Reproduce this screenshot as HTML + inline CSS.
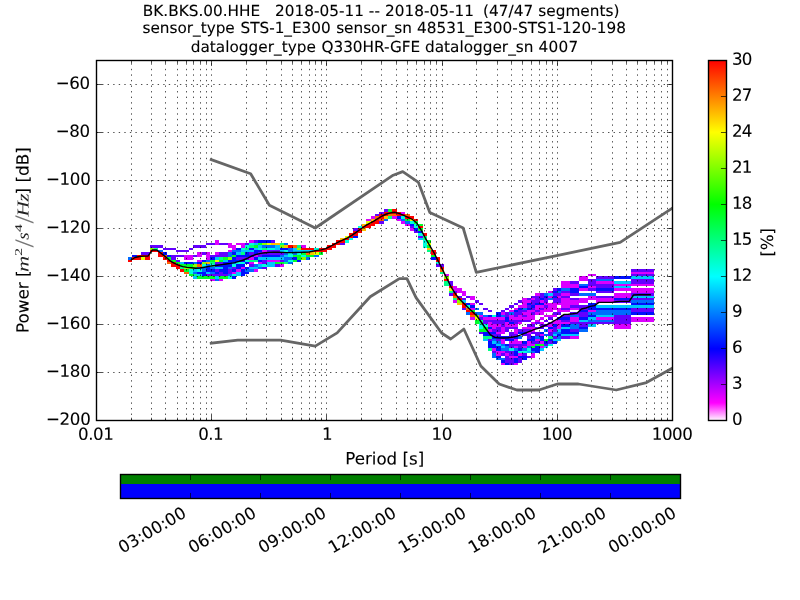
<!DOCTYPE html><html><head><meta charset="utf-8"><title>PPSD BK.BKS.00.HHE</title>
<style>html,body{margin:0;padding:0;background:#fff;overflow:hidden}svg{display:block}text{font-family:"DejaVu Sans","Liberation Sans",sans-serif;font-size:16.667px;fill:#000;stroke:#000;stroke-width:0.1px;text-rendering:geometricPrecision}.m{font-family:"Liberation Serif",serif;font-style:italic;stroke:none;fill:#222}.mr{font-family:"Liberation Serif",serif;stroke:none}</style></head><body>
<svg width="800" height="600" viewBox="0 0 800 600">
<rect x="0" y="0" width="800" height="600" fill="#fff"/>
<g shape-rendering="crispEdges">
<rect x="128" y="257" width="4" height="3" fill="#006bff"/>
<rect x="128" y="260" width="4" height="2" fill="#ff0000"/>
<rect x="132" y="255" width="5" height="2" fill="#0010ff"/>
<rect x="132" y="257" width="5" height="3" fill="#ff0000"/>
<rect x="137" y="255" width="4" height="2" fill="#ff0000"/>
<rect x="137" y="257" width="4" height="3" fill="#ff0000"/>
<rect x="141" y="252" width="4" height="3" fill="#6300ff"/>
<rect x="141" y="255" width="4" height="2" fill="#ff0000"/>
<rect x="141" y="257" width="4" height="3" fill="#e6ff00"/>
<rect x="145" y="252" width="5" height="3" fill="#6300ff"/>
<rect x="145" y="255" width="5" height="2" fill="#ff0000"/>
<rect x="145" y="257" width="5" height="3" fill="#ff0000"/>
<rect x="150" y="245" width="4" height="3" fill="#6300ff"/>
<rect x="150" y="248" width="4" height="2" fill="#8bff00"/>
<rect x="150" y="250" width="4" height="2" fill="#ff0000"/>
<rect x="154" y="245" width="4" height="3" fill="#6300ff"/>
<rect x="154" y="248" width="4" height="2" fill="#00ff84"/>
<rect x="154" y="250" width="4" height="2" fill="#ff0000"/>
<rect x="158" y="245" width="5" height="3" fill="#6300ff"/>
<rect x="158" y="250" width="5" height="2" fill="#006bff"/>
<rect x="158" y="252" width="5" height="3" fill="#ff0000"/>
<rect x="158" y="255" width="5" height="2" fill="#ff0000"/>
<rect x="163" y="248" width="4" height="2" fill="#6300ff"/>
<rect x="163" y="252" width="4" height="3" fill="#0010ff"/>
<rect x="163" y="255" width="4" height="2" fill="#ff6300"/>
<rect x="163" y="257" width="4" height="3" fill="#ff0000"/>
<rect x="167" y="248" width="4" height="2" fill="#6300ff"/>
<rect x="167" y="255" width="4" height="2" fill="#0010ff"/>
<rect x="167" y="257" width="4" height="3" fill="#00ff2a"/>
<rect x="167" y="260" width="4" height="2" fill="#ff0000"/>
<rect x="167" y="262" width="4" height="2" fill="#ff6300"/>
<rect x="171" y="248" width="5" height="2" fill="#6300ff"/>
<rect x="171" y="255" width="5" height="2" fill="#6300ff"/>
<rect x="171" y="257" width="5" height="3" fill="#6300ff"/>
<rect x="171" y="260" width="5" height="2" fill="#00ff2a"/>
<rect x="171" y="262" width="5" height="2" fill="#ff0000"/>
<rect x="171" y="264" width="5" height="3" fill="#ff0000"/>
<rect x="176" y="250" width="4" height="2" fill="#6300ff"/>
<rect x="176" y="255" width="4" height="2" fill="#6300ff"/>
<rect x="176" y="260" width="4" height="2" fill="#6300ff"/>
<rect x="176" y="262" width="4" height="2" fill="#00ff2a"/>
<rect x="176" y="264" width="4" height="3" fill="#ff0000"/>
<rect x="176" y="267" width="4" height="2" fill="#ff0000"/>
<rect x="180" y="250" width="4" height="2" fill="#6300ff"/>
<rect x="180" y="255" width="4" height="2" fill="#6300ff"/>
<rect x="180" y="262" width="4" height="2" fill="#00c5ff"/>
<rect x="180" y="264" width="4" height="3" fill="#00ff2a"/>
<rect x="180" y="267" width="4" height="2" fill="#00ff84"/>
<rect x="180" y="269" width="4" height="3" fill="#ff0000"/>
<rect x="184" y="250" width="5" height="2" fill="#6300ff"/>
<rect x="184" y="255" width="5" height="2" fill="#db00ff"/>
<rect x="184" y="257" width="5" height="3" fill="#db00ff"/>
<rect x="184" y="262" width="5" height="2" fill="#0010ff"/>
<rect x="184" y="264" width="5" height="3" fill="#00ff2a"/>
<rect x="184" y="267" width="5" height="2" fill="#8bff00"/>
<rect x="184" y="269" width="5" height="3" fill="#00ff2a"/>
<rect x="184" y="272" width="5" height="2" fill="#ff6300"/>
<rect x="189" y="248" width="4" height="2" fill="#6300ff"/>
<rect x="189" y="255" width="4" height="2" fill="#db00ff"/>
<rect x="189" y="257" width="4" height="3" fill="#db00ff"/>
<rect x="189" y="262" width="4" height="2" fill="#0010ff"/>
<rect x="189" y="264" width="4" height="3" fill="#00ff2a"/>
<rect x="189" y="267" width="4" height="2" fill="#8bff00"/>
<rect x="189" y="269" width="4" height="3" fill="#00ffde"/>
<rect x="189" y="272" width="4" height="2" fill="#00ffde"/>
<rect x="189" y="274" width="4" height="2" fill="#00ff2a"/>
<rect x="193" y="245" width="4" height="3" fill="#6300ff"/>
<rect x="193" y="255" width="4" height="2" fill="#6300ff"/>
<rect x="193" y="262" width="4" height="2" fill="#006bff"/>
<rect x="193" y="264" width="4" height="3" fill="#8bff00"/>
<rect x="193" y="267" width="4" height="2" fill="#00ff2a"/>
<rect x="193" y="269" width="4" height="3" fill="#00c5ff"/>
<rect x="193" y="272" width="4" height="2" fill="#006bff"/>
<rect x="193" y="274" width="4" height="2" fill="#00ff84"/>
<rect x="193" y="276" width="4" height="3" fill="#00c5ff"/>
<rect x="197" y="245" width="5" height="3" fill="#6300ff"/>
<rect x="197" y="252" width="5" height="3" fill="#db00ff"/>
<rect x="197" y="255" width="5" height="2" fill="#db00ff"/>
<rect x="197" y="260" width="5" height="2" fill="#db00ff"/>
<rect x="197" y="262" width="5" height="2" fill="#0010ff"/>
<rect x="197" y="264" width="5" height="3" fill="#ff6300"/>
<rect x="197" y="267" width="5" height="2" fill="#006bff"/>
<rect x="197" y="269" width="5" height="3" fill="#00ffde"/>
<rect x="197" y="272" width="5" height="2" fill="#0010ff"/>
<rect x="197" y="274" width="5" height="2" fill="#00c5ff"/>
<rect x="197" y="276" width="5" height="3" fill="#00ff2a"/>
<rect x="202" y="245" width="4" height="3" fill="#6300ff"/>
<rect x="202" y="252" width="4" height="3" fill="#6300ff"/>
<rect x="202" y="260" width="4" height="2" fill="#0010ff"/>
<rect x="202" y="262" width="4" height="2" fill="#8bff00"/>
<rect x="202" y="264" width="4" height="3" fill="#00ffde"/>
<rect x="202" y="267" width="4" height="2" fill="#006bff"/>
<rect x="202" y="269" width="4" height="3" fill="#006bff"/>
<rect x="202" y="272" width="4" height="2" fill="#0010ff"/>
<rect x="202" y="274" width="4" height="2" fill="#0010ff"/>
<rect x="202" y="276" width="4" height="3" fill="#00ff2a"/>
<rect x="206" y="243" width="4" height="2" fill="#6300ff"/>
<rect x="206" y="252" width="4" height="3" fill="#db00ff"/>
<rect x="206" y="255" width="4" height="2" fill="#db00ff"/>
<rect x="206" y="257" width="4" height="3" fill="#db00ff"/>
<rect x="206" y="260" width="4" height="2" fill="#006bff"/>
<rect x="206" y="262" width="4" height="2" fill="#ffbe00"/>
<rect x="206" y="264" width="4" height="3" fill="#006bff"/>
<rect x="206" y="267" width="4" height="2" fill="#0010ff"/>
<rect x="206" y="269" width="4" height="3" fill="#0010ff"/>
<rect x="206" y="272" width="4" height="2" fill="#00c5ff"/>
<rect x="206" y="274" width="4" height="2" fill="#6300ff"/>
<rect x="206" y="276" width="4" height="3" fill="#00ff2a"/>
<rect x="210" y="243" width="5" height="2" fill="#6300ff"/>
<rect x="210" y="255" width="5" height="2" fill="#6300ff"/>
<rect x="210" y="257" width="5" height="3" fill="#0010ff"/>
<rect x="210" y="260" width="5" height="2" fill="#00ff2a"/>
<rect x="210" y="262" width="5" height="2" fill="#00ff84"/>
<rect x="210" y="264" width="5" height="3" fill="#00ffde"/>
<rect x="210" y="267" width="5" height="2" fill="#006bff"/>
<rect x="210" y="269" width="5" height="3" fill="#0010ff"/>
<rect x="210" y="272" width="5" height="2" fill="#006bff"/>
<rect x="210" y="274" width="5" height="2" fill="#6300ff"/>
<rect x="210" y="276" width="5" height="3" fill="#00ff2a"/>
<rect x="210" y="279" width="5" height="2" fill="#db00ff"/>
<rect x="215" y="240" width="4" height="3" fill="#db00ff"/>
<rect x="215" y="243" width="4" height="2" fill="#db00ff"/>
<rect x="215" y="252" width="4" height="3" fill="#db00ff"/>
<rect x="215" y="255" width="4" height="2" fill="#6300ff"/>
<rect x="215" y="257" width="4" height="3" fill="#00c5ff"/>
<rect x="215" y="260" width="4" height="2" fill="#e6ff00"/>
<rect x="215" y="262" width="4" height="2" fill="#6300ff"/>
<rect x="215" y="264" width="4" height="3" fill="#0010ff"/>
<rect x="215" y="267" width="4" height="2" fill="#00c5ff"/>
<rect x="215" y="269" width="4" height="3" fill="#6300ff"/>
<rect x="215" y="272" width="4" height="2" fill="#0010ff"/>
<rect x="215" y="274" width="4" height="2" fill="#6300ff"/>
<rect x="215" y="276" width="4" height="3" fill="#00c5ff"/>
<rect x="215" y="279" width="4" height="2" fill="#006bff"/>
<rect x="219" y="243" width="4" height="2" fill="#6300ff"/>
<rect x="219" y="252" width="4" height="3" fill="#6300ff"/>
<rect x="219" y="255" width="4" height="2" fill="#6300ff"/>
<rect x="219" y="257" width="4" height="3" fill="#00ff84"/>
<rect x="219" y="260" width="4" height="2" fill="#00ff2a"/>
<rect x="219" y="262" width="4" height="2" fill="#6300ff"/>
<rect x="219" y="264" width="4" height="3" fill="#0010ff"/>
<rect x="219" y="267" width="4" height="2" fill="#00c5ff"/>
<rect x="219" y="269" width="4" height="3" fill="#0010ff"/>
<rect x="219" y="272" width="4" height="2" fill="#6300ff"/>
<rect x="219" y="274" width="4" height="2" fill="#6300ff"/>
<rect x="219" y="276" width="4" height="3" fill="#00ff2a"/>
<rect x="219" y="279" width="4" height="2" fill="#db00ff"/>
<rect x="223" y="243" width="5" height="2" fill="#6300ff"/>
<rect x="223" y="252" width="5" height="3" fill="#6300ff"/>
<rect x="223" y="255" width="5" height="2" fill="#6300ff"/>
<rect x="223" y="257" width="5" height="3" fill="#00ff2a"/>
<rect x="223" y="260" width="5" height="2" fill="#00c5ff"/>
<rect x="223" y="262" width="5" height="2" fill="#0010ff"/>
<rect x="223" y="264" width="5" height="3" fill="#0010ff"/>
<rect x="223" y="267" width="5" height="2" fill="#0010ff"/>
<rect x="223" y="269" width="5" height="3" fill="#0010ff"/>
<rect x="223" y="272" width="5" height="2" fill="#0010ff"/>
<rect x="223" y="274" width="5" height="2" fill="#6300ff"/>
<rect x="223" y="276" width="5" height="3" fill="#00ff2a"/>
<rect x="228" y="243" width="4" height="2" fill="#db00ff"/>
<rect x="228" y="245" width="4" height="3" fill="#db00ff"/>
<rect x="228" y="250" width="4" height="2" fill="#db00ff"/>
<rect x="228" y="252" width="4" height="3" fill="#006bff"/>
<rect x="228" y="255" width="4" height="2" fill="#006bff"/>
<rect x="228" y="257" width="4" height="3" fill="#8bff00"/>
<rect x="228" y="260" width="4" height="2" fill="#0010ff"/>
<rect x="228" y="262" width="4" height="2" fill="#0010ff"/>
<rect x="228" y="264" width="4" height="3" fill="#0010ff"/>
<rect x="228" y="267" width="4" height="2" fill="#006bff"/>
<rect x="228" y="269" width="4" height="3" fill="#6300ff"/>
<rect x="228" y="272" width="4" height="2" fill="#6300ff"/>
<rect x="228" y="274" width="4" height="2" fill="#006bff"/>
<rect x="228" y="276" width="4" height="3" fill="#00ffde"/>
<rect x="232" y="245" width="4" height="3" fill="#db00ff"/>
<rect x="232" y="248" width="4" height="2" fill="#db00ff"/>
<rect x="232" y="250" width="4" height="2" fill="#006bff"/>
<rect x="232" y="252" width="4" height="3" fill="#0010ff"/>
<rect x="232" y="255" width="4" height="2" fill="#00ff2a"/>
<rect x="232" y="257" width="4" height="3" fill="#0010ff"/>
<rect x="232" y="260" width="4" height="2" fill="#0010ff"/>
<rect x="232" y="262" width="4" height="2" fill="#006bff"/>
<rect x="232" y="264" width="4" height="3" fill="#00ffde"/>
<rect x="232" y="267" width="4" height="2" fill="#6300ff"/>
<rect x="232" y="269" width="4" height="3" fill="#0010ff"/>
<rect x="232" y="272" width="4" height="2" fill="#db00ff"/>
<rect x="232" y="274" width="4" height="2" fill="#00ffde"/>
<rect x="232" y="276" width="4" height="3" fill="#0010ff"/>
<rect x="236" y="243" width="5" height="2" fill="#db00ff"/>
<rect x="236" y="248" width="5" height="2" fill="#0010ff"/>
<rect x="236" y="250" width="5" height="2" fill="#006bff"/>
<rect x="236" y="252" width="5" height="3" fill="#00c5ff"/>
<rect x="236" y="255" width="5" height="2" fill="#0010ff"/>
<rect x="236" y="257" width="5" height="3" fill="#6300ff"/>
<rect x="236" y="260" width="5" height="2" fill="#0010ff"/>
<rect x="236" y="262" width="5" height="2" fill="#00ffde"/>
<rect x="236" y="264" width="5" height="3" fill="#0010ff"/>
<rect x="236" y="267" width="5" height="2" fill="#0010ff"/>
<rect x="236" y="269" width="5" height="3" fill="#db00ff"/>
<rect x="236" y="272" width="5" height="2" fill="#00c5ff"/>
<rect x="236" y="274" width="5" height="2" fill="#00c5ff"/>
<rect x="241" y="243" width="4" height="2" fill="#db00ff"/>
<rect x="241" y="245" width="4" height="3" fill="#db00ff"/>
<rect x="241" y="248" width="4" height="2" fill="#00ffde"/>
<rect x="241" y="250" width="4" height="2" fill="#00c5ff"/>
<rect x="241" y="252" width="4" height="3" fill="#00ff84"/>
<rect x="241" y="255" width="4" height="2" fill="#0010ff"/>
<rect x="241" y="257" width="4" height="3" fill="#6300ff"/>
<rect x="241" y="260" width="4" height="2" fill="#0010ff"/>
<rect x="241" y="262" width="4" height="2" fill="#00ffde"/>
<rect x="241" y="264" width="4" height="3" fill="#0010ff"/>
<rect x="241" y="267" width="4" height="2" fill="#db00ff"/>
<rect x="241" y="269" width="4" height="3" fill="#0010ff"/>
<rect x="241" y="272" width="4" height="2" fill="#0010ff"/>
<rect x="241" y="274" width="4" height="2" fill="#0010ff"/>
<rect x="245" y="243" width="4" height="2" fill="#6300ff"/>
<rect x="245" y="245" width="4" height="3" fill="#00ffde"/>
<rect x="245" y="248" width="4" height="2" fill="#00ff84"/>
<rect x="245" y="250" width="4" height="2" fill="#00c5ff"/>
<rect x="245" y="252" width="4" height="3" fill="#0010ff"/>
<rect x="245" y="255" width="4" height="2" fill="#0010ff"/>
<rect x="245" y="257" width="4" height="3" fill="#6300ff"/>
<rect x="245" y="260" width="4" height="2" fill="#00ffde"/>
<rect x="245" y="262" width="4" height="2" fill="#0010ff"/>
<rect x="245" y="267" width="4" height="2" fill="#0010ff"/>
<rect x="245" y="269" width="4" height="3" fill="#006bff"/>
<rect x="245" y="272" width="4" height="2" fill="#0010ff"/>
<rect x="249" y="240" width="5" height="3" fill="#db00ff"/>
<rect x="249" y="243" width="5" height="2" fill="#00ffde"/>
<rect x="249" y="245" width="5" height="3" fill="#00ff84"/>
<rect x="249" y="248" width="5" height="2" fill="#0010ff"/>
<rect x="249" y="250" width="5" height="2" fill="#00c5ff"/>
<rect x="249" y="252" width="5" height="3" fill="#6300ff"/>
<rect x="249" y="255" width="5" height="2" fill="#0010ff"/>
<rect x="249" y="257" width="5" height="3" fill="#db00ff"/>
<rect x="249" y="260" width="5" height="2" fill="#00ff84"/>
<rect x="249" y="262" width="5" height="2" fill="#db00ff"/>
<rect x="249" y="264" width="5" height="3" fill="#6300ff"/>
<rect x="249" y="267" width="5" height="2" fill="#00c5ff"/>
<rect x="249" y="269" width="5" height="3" fill="#006bff"/>
<rect x="254" y="240" width="4" height="3" fill="#6300ff"/>
<rect x="254" y="243" width="4" height="2" fill="#00c5ff"/>
<rect x="254" y="245" width="4" height="3" fill="#00ff2a"/>
<rect x="254" y="248" width="4" height="2" fill="#00c5ff"/>
<rect x="254" y="250" width="4" height="2" fill="#0010ff"/>
<rect x="254" y="252" width="4" height="3" fill="#0010ff"/>
<rect x="254" y="255" width="4" height="2" fill="#db00ff"/>
<rect x="254" y="257" width="4" height="3" fill="#0010ff"/>
<rect x="254" y="260" width="4" height="2" fill="#00ff84"/>
<rect x="254" y="264" width="4" height="3" fill="#006bff"/>
<rect x="254" y="267" width="4" height="2" fill="#00c5ff"/>
<rect x="254" y="269" width="4" height="3" fill="#db00ff"/>
<rect x="258" y="240" width="4" height="3" fill="#0010ff"/>
<rect x="258" y="243" width="4" height="2" fill="#00ff2a"/>
<rect x="258" y="245" width="4" height="3" fill="#00c5ff"/>
<rect x="258" y="248" width="4" height="2" fill="#00ffde"/>
<rect x="258" y="250" width="4" height="2" fill="#0010ff"/>
<rect x="258" y="252" width="4" height="3" fill="#6300ff"/>
<rect x="258" y="255" width="4" height="2" fill="#6300ff"/>
<rect x="258" y="257" width="4" height="3" fill="#00c5ff"/>
<rect x="258" y="260" width="4" height="2" fill="#0010ff"/>
<rect x="258" y="262" width="4" height="2" fill="#db00ff"/>
<rect x="258" y="264" width="4" height="3" fill="#00c5ff"/>
<rect x="258" y="267" width="4" height="2" fill="#006bff"/>
<rect x="262" y="240" width="5" height="3" fill="#0010ff"/>
<rect x="262" y="243" width="5" height="2" fill="#8bff00"/>
<rect x="262" y="245" width="5" height="3" fill="#006bff"/>
<rect x="262" y="248" width="5" height="2" fill="#00ff84"/>
<rect x="262" y="250" width="5" height="2" fill="#db00ff"/>
<rect x="262" y="252" width="5" height="3" fill="#6300ff"/>
<rect x="262" y="255" width="5" height="2" fill="#0010ff"/>
<rect x="262" y="257" width="5" height="3" fill="#00c5ff"/>
<rect x="262" y="260" width="5" height="2" fill="#6300ff"/>
<rect x="262" y="262" width="5" height="2" fill="#6300ff"/>
<rect x="262" y="264" width="5" height="3" fill="#00ffde"/>
<rect x="262" y="267" width="5" height="2" fill="#6300ff"/>
<rect x="267" y="240" width="4" height="3" fill="#0010ff"/>
<rect x="267" y="243" width="4" height="2" fill="#e6ff00"/>
<rect x="267" y="245" width="4" height="3" fill="#006bff"/>
<rect x="267" y="248" width="4" height="2" fill="#00ffde"/>
<rect x="267" y="250" width="4" height="2" fill="#6300ff"/>
<rect x="267" y="252" width="4" height="3" fill="#6300ff"/>
<rect x="267" y="255" width="4" height="2" fill="#0010ff"/>
<rect x="267" y="257" width="4" height="3" fill="#00c5ff"/>
<rect x="267" y="260" width="4" height="2" fill="#db00ff"/>
<rect x="267" y="262" width="4" height="2" fill="#00c5ff"/>
<rect x="267" y="264" width="4" height="3" fill="#00c5ff"/>
<rect x="271" y="240" width="4" height="3" fill="#6300ff"/>
<rect x="271" y="243" width="4" height="2" fill="#ffbe00"/>
<rect x="271" y="245" width="4" height="3" fill="#006bff"/>
<rect x="271" y="248" width="4" height="2" fill="#00ffde"/>
<rect x="271" y="250" width="4" height="2" fill="#6300ff"/>
<rect x="271" y="252" width="4" height="3" fill="#6300ff"/>
<rect x="271" y="255" width="4" height="2" fill="#0010ff"/>
<rect x="271" y="257" width="4" height="3" fill="#00c5ff"/>
<rect x="271" y="260" width="4" height="2" fill="#db00ff"/>
<rect x="271" y="262" width="4" height="2" fill="#00c5ff"/>
<rect x="271" y="264" width="4" height="3" fill="#00c5ff"/>
<rect x="275" y="243" width="5" height="2" fill="#ffbe00"/>
<rect x="275" y="245" width="5" height="3" fill="#00c5ff"/>
<rect x="275" y="248" width="5" height="2" fill="#00c5ff"/>
<rect x="275" y="250" width="5" height="2" fill="#6300ff"/>
<rect x="275" y="252" width="5" height="3" fill="#6300ff"/>
<rect x="275" y="255" width="5" height="2" fill="#0010ff"/>
<rect x="275" y="257" width="5" height="3" fill="#00c5ff"/>
<rect x="275" y="260" width="5" height="2" fill="#db00ff"/>
<rect x="275" y="262" width="5" height="2" fill="#00ff2a"/>
<rect x="275" y="264" width="5" height="3" fill="#6300ff"/>
<rect x="280" y="243" width="4" height="2" fill="#00ff84"/>
<rect x="280" y="245" width="4" height="3" fill="#8bff00"/>
<rect x="280" y="248" width="4" height="2" fill="#0010ff"/>
<rect x="280" y="250" width="4" height="2" fill="#00c5ff"/>
<rect x="280" y="252" width="4" height="3" fill="#6300ff"/>
<rect x="280" y="255" width="4" height="2" fill="#006bff"/>
<rect x="280" y="257" width="4" height="3" fill="#00c5ff"/>
<rect x="280" y="260" width="4" height="2" fill="#6300ff"/>
<rect x="280" y="262" width="4" height="2" fill="#00ff2a"/>
<rect x="280" y="264" width="4" height="3" fill="#db00ff"/>
<rect x="284" y="243" width="4" height="2" fill="#006bff"/>
<rect x="284" y="245" width="4" height="3" fill="#ffbe00"/>
<rect x="284" y="248" width="4" height="2" fill="#0010ff"/>
<rect x="284" y="250" width="4" height="2" fill="#00ffde"/>
<rect x="284" y="252" width="4" height="3" fill="#006bff"/>
<rect x="284" y="255" width="4" height="2" fill="#00c5ff"/>
<rect x="284" y="257" width="4" height="3" fill="#006bff"/>
<rect x="284" y="260" width="4" height="2" fill="#006bff"/>
<rect x="284" y="262" width="4" height="2" fill="#00ff84"/>
<rect x="288" y="245" width="5" height="3" fill="#ff0000"/>
<rect x="288" y="248" width="5" height="2" fill="#006bff"/>
<rect x="288" y="250" width="5" height="2" fill="#006bff"/>
<rect x="288" y="252" width="5" height="3" fill="#00ffde"/>
<rect x="288" y="255" width="5" height="2" fill="#00ffde"/>
<rect x="288" y="257" width="5" height="3" fill="#006bff"/>
<rect x="288" y="260" width="5" height="2" fill="#00ffde"/>
<rect x="288" y="262" width="5" height="2" fill="#006bff"/>
<rect x="293" y="245" width="4" height="3" fill="#ff6300"/>
<rect x="293" y="248" width="4" height="2" fill="#00c5ff"/>
<rect x="293" y="250" width="4" height="2" fill="#00c5ff"/>
<rect x="293" y="252" width="4" height="3" fill="#006bff"/>
<rect x="293" y="255" width="4" height="2" fill="#00ff2a"/>
<rect x="293" y="257" width="4" height="3" fill="#0010ff"/>
<rect x="293" y="260" width="4" height="2" fill="#00ff2a"/>
<rect x="297" y="245" width="4" height="3" fill="#00ff84"/>
<rect x="297" y="248" width="4" height="2" fill="#8bff00"/>
<rect x="297" y="250" width="4" height="2" fill="#00c5ff"/>
<rect x="297" y="252" width="4" height="3" fill="#00ffde"/>
<rect x="297" y="255" width="4" height="2" fill="#00ff2a"/>
<rect x="297" y="257" width="4" height="3" fill="#00ff2a"/>
<rect x="297" y="260" width="4" height="2" fill="#0010ff"/>
<rect x="301" y="245" width="5" height="3" fill="#db00ff"/>
<rect x="301" y="248" width="5" height="2" fill="#ff0000"/>
<rect x="301" y="250" width="5" height="2" fill="#00c5ff"/>
<rect x="301" y="252" width="5" height="3" fill="#00ff2a"/>
<rect x="301" y="255" width="5" height="2" fill="#00ffde"/>
<rect x="301" y="257" width="5" height="3" fill="#8bff00"/>
<rect x="306" y="248" width="4" height="2" fill="#ff0000"/>
<rect x="306" y="250" width="4" height="2" fill="#00c5ff"/>
<rect x="306" y="252" width="4" height="3" fill="#ff6300"/>
<rect x="306" y="255" width="4" height="2" fill="#00ff2a"/>
<rect x="306" y="257" width="4" height="3" fill="#006bff"/>
<rect x="310" y="248" width="4" height="2" fill="#ff0000"/>
<rect x="310" y="250" width="4" height="2" fill="#00c5ff"/>
<rect x="310" y="252" width="4" height="3" fill="#ffbe00"/>
<rect x="310" y="255" width="4" height="2" fill="#00ff2a"/>
<rect x="314" y="248" width="5" height="2" fill="#00ffde"/>
<rect x="314" y="250" width="5" height="2" fill="#ff0000"/>
<rect x="314" y="252" width="5" height="3" fill="#e6ff00"/>
<rect x="314" y="255" width="5" height="2" fill="#006bff"/>
<rect x="319" y="248" width="4" height="2" fill="#ff0000"/>
<rect x="319" y="250" width="4" height="2" fill="#ff0000"/>
<rect x="319" y="252" width="4" height="3" fill="#00ff2a"/>
<rect x="323" y="248" width="4" height="2" fill="#ff0000"/>
<rect x="323" y="250" width="4" height="2" fill="#ff0000"/>
<rect x="327" y="245" width="5" height="3" fill="#ff0000"/>
<rect x="327" y="248" width="5" height="2" fill="#ff0000"/>
<rect x="332" y="243" width="4" height="2" fill="#ff0000"/>
<rect x="332" y="245" width="4" height="3" fill="#ff0000"/>
<rect x="336" y="240" width="4" height="3" fill="#ff0000"/>
<rect x="336" y="243" width="4" height="2" fill="#ff0000"/>
<rect x="340" y="238" width="5" height="2" fill="#ffbe00"/>
<rect x="340" y="240" width="5" height="3" fill="#ff0000"/>
<rect x="340" y="243" width="5" height="2" fill="#6300ff"/>
<rect x="345" y="236" width="4" height="2" fill="#e6ff00"/>
<rect x="345" y="238" width="4" height="2" fill="#ff0000"/>
<rect x="345" y="240" width="4" height="3" fill="#00ffde"/>
<rect x="349" y="233" width="4" height="3" fill="#ff0000"/>
<rect x="349" y="236" width="4" height="2" fill="#ff0000"/>
<rect x="349" y="238" width="4" height="2" fill="#00ffde"/>
<rect x="353" y="228" width="5" height="3" fill="#6300ff"/>
<rect x="353" y="231" width="5" height="2" fill="#ff0000"/>
<rect x="353" y="233" width="5" height="3" fill="#ff0000"/>
<rect x="353" y="236" width="5" height="2" fill="#0010ff"/>
<rect x="358" y="226" width="4" height="2" fill="#00ffde"/>
<rect x="358" y="228" width="4" height="3" fill="#ff0000"/>
<rect x="358" y="231" width="4" height="2" fill="#ff0000"/>
<rect x="362" y="224" width="4" height="2" fill="#ffbe00"/>
<rect x="362" y="226" width="4" height="2" fill="#ff0000"/>
<rect x="362" y="228" width="4" height="3" fill="#ffbe00"/>
<rect x="366" y="219" width="5" height="2" fill="#db00ff"/>
<rect x="366" y="221" width="5" height="3" fill="#e6ff00"/>
<rect x="366" y="224" width="5" height="2" fill="#ff0000"/>
<rect x="366" y="226" width="5" height="2" fill="#ff0000"/>
<rect x="371" y="216" width="4" height="3" fill="#db00ff"/>
<rect x="371" y="219" width="4" height="2" fill="#ffbe00"/>
<rect x="371" y="221" width="4" height="3" fill="#ff0000"/>
<rect x="371" y="224" width="4" height="2" fill="#ff0000"/>
<rect x="375" y="214" width="4" height="2" fill="#6300ff"/>
<rect x="375" y="216" width="4" height="3" fill="#ff6300"/>
<rect x="375" y="219" width="4" height="2" fill="#ff0000"/>
<rect x="375" y="221" width="4" height="3" fill="#ff0000"/>
<rect x="379" y="212" width="5" height="2" fill="#6300ff"/>
<rect x="379" y="214" width="5" height="2" fill="#ff0000"/>
<rect x="379" y="216" width="5" height="3" fill="#ff0000"/>
<rect x="379" y="219" width="5" height="2" fill="#ff6300"/>
<rect x="379" y="221" width="5" height="3" fill="#6300ff"/>
<rect x="384" y="209" width="4" height="3" fill="#6300ff"/>
<rect x="384" y="212" width="4" height="2" fill="#ff0000"/>
<rect x="384" y="214" width="4" height="2" fill="#ff0000"/>
<rect x="384" y="216" width="4" height="3" fill="#ffbe00"/>
<rect x="384" y="219" width="4" height="2" fill="#006bff"/>
<rect x="388" y="209" width="4" height="3" fill="#00ff2a"/>
<rect x="388" y="212" width="4" height="2" fill="#ff0000"/>
<rect x="388" y="214" width="4" height="2" fill="#ff6300"/>
<rect x="388" y="216" width="4" height="3" fill="#00ff84"/>
<rect x="392" y="209" width="5" height="3" fill="#ff0000"/>
<rect x="392" y="212" width="5" height="2" fill="#ff0000"/>
<rect x="392" y="214" width="5" height="2" fill="#ff6300"/>
<rect x="392" y="216" width="5" height="3" fill="#db00ff"/>
<rect x="397" y="212" width="4" height="2" fill="#ff0000"/>
<rect x="397" y="214" width="4" height="2" fill="#ff0000"/>
<rect x="397" y="216" width="4" height="3" fill="#0010ff"/>
<rect x="397" y="219" width="4" height="2" fill="#db00ff"/>
<rect x="401" y="212" width="4" height="2" fill="#db00ff"/>
<rect x="401" y="214" width="4" height="2" fill="#ff0000"/>
<rect x="401" y="216" width="4" height="3" fill="#00ffde"/>
<rect x="401" y="219" width="4" height="2" fill="#006bff"/>
<rect x="401" y="221" width="4" height="3" fill="#db00ff"/>
<rect x="405" y="214" width="5" height="2" fill="#ff6300"/>
<rect x="405" y="216" width="5" height="3" fill="#ff0000"/>
<rect x="405" y="219" width="5" height="2" fill="#00ff2a"/>
<rect x="405" y="221" width="5" height="3" fill="#006bff"/>
<rect x="405" y="224" width="5" height="2" fill="#db00ff"/>
<rect x="410" y="216" width="4" height="3" fill="#ff0000"/>
<rect x="410" y="219" width="4" height="2" fill="#e6ff00"/>
<rect x="410" y="221" width="4" height="3" fill="#00ffde"/>
<rect x="410" y="224" width="4" height="2" fill="#0010ff"/>
<rect x="410" y="226" width="4" height="2" fill="#6300ff"/>
<rect x="410" y="228" width="4" height="3" fill="#db00ff"/>
<rect x="414" y="219" width="4" height="2" fill="#ff0000"/>
<rect x="414" y="221" width="4" height="3" fill="#00ff2a"/>
<rect x="414" y="224" width="4" height="2" fill="#00ffde"/>
<rect x="414" y="226" width="4" height="2" fill="#00ffde"/>
<rect x="414" y="228" width="4" height="3" fill="#0010ff"/>
<rect x="414" y="231" width="4" height="2" fill="#6300ff"/>
<rect x="418" y="224" width="5" height="2" fill="#00ff2a"/>
<rect x="418" y="226" width="5" height="2" fill="#ff0000"/>
<rect x="418" y="228" width="5" height="3" fill="#00ff2a"/>
<rect x="418" y="231" width="5" height="2" fill="#0010ff"/>
<rect x="418" y="233" width="5" height="3" fill="#00ffde"/>
<rect x="418" y="236" width="5" height="2" fill="#6300ff"/>
<rect x="418" y="238" width="5" height="2" fill="#00c5ff"/>
<rect x="423" y="233" width="4" height="3" fill="#ff0000"/>
<rect x="423" y="236" width="4" height="2" fill="#00ff84"/>
<rect x="423" y="238" width="4" height="2" fill="#00ff84"/>
<rect x="423" y="240" width="4" height="3" fill="#00ffde"/>
<rect x="423" y="243" width="4" height="2" fill="#00ffde"/>
<rect x="423" y="245" width="4" height="3" fill="#00ffde"/>
<rect x="427" y="240" width="4" height="3" fill="#00ff2a"/>
<rect x="427" y="243" width="4" height="2" fill="#e6ff00"/>
<rect x="427" y="245" width="4" height="3" fill="#00ff2a"/>
<rect x="427" y="248" width="4" height="2" fill="#ffbe00"/>
<rect x="427" y="250" width="4" height="2" fill="#00ff84"/>
<rect x="431" y="250" width="5" height="2" fill="#ff0000"/>
<rect x="431" y="252" width="5" height="3" fill="#ff0000"/>
<rect x="431" y="255" width="5" height="2" fill="#00ff2a"/>
<rect x="431" y="257" width="5" height="3" fill="#0010ff"/>
<rect x="436" y="257" width="4" height="3" fill="#ff0000"/>
<rect x="436" y="260" width="4" height="2" fill="#ff0000"/>
<rect x="436" y="262" width="4" height="2" fill="#00ffde"/>
<rect x="436" y="264" width="4" height="3" fill="#6300ff"/>
<rect x="440" y="264" width="4" height="3" fill="#6300ff"/>
<rect x="440" y="267" width="4" height="2" fill="#ff0000"/>
<rect x="440" y="269" width="4" height="3" fill="#ff6300"/>
<rect x="440" y="272" width="4" height="2" fill="#00ff84"/>
<rect x="444" y="274" width="5" height="2" fill="#db00ff"/>
<rect x="444" y="276" width="5" height="3" fill="#8bff00"/>
<rect x="444" y="279" width="5" height="2" fill="#ff0000"/>
<rect x="444" y="281" width="5" height="3" fill="#00ff84"/>
<rect x="444" y="284" width="5" height="2" fill="#00ff84"/>
<rect x="449" y="281" width="4" height="3" fill="#6300ff"/>
<rect x="449" y="284" width="4" height="2" fill="#6300ff"/>
<rect x="449" y="286" width="4" height="2" fill="#ff0000"/>
<rect x="449" y="288" width="4" height="3" fill="#e6ff00"/>
<rect x="449" y="291" width="4" height="2" fill="#00ff84"/>
<rect x="449" y="293" width="4" height="3" fill="#6300ff"/>
<rect x="453" y="286" width="4" height="2" fill="#db00ff"/>
<rect x="453" y="288" width="4" height="3" fill="#db00ff"/>
<rect x="453" y="291" width="4" height="2" fill="#6300ff"/>
<rect x="453" y="293" width="4" height="3" fill="#ff0000"/>
<rect x="453" y="296" width="4" height="2" fill="#ff6300"/>
<rect x="453" y="298" width="4" height="2" fill="#00ff84"/>
<rect x="453" y="300" width="4" height="3" fill="#db00ff"/>
<rect x="457" y="288" width="5" height="3" fill="#db00ff"/>
<rect x="457" y="291" width="5" height="2" fill="#db00ff"/>
<rect x="457" y="296" width="5" height="2" fill="#6300ff"/>
<rect x="457" y="298" width="5" height="2" fill="#ff0000"/>
<rect x="457" y="300" width="5" height="3" fill="#8bff00"/>
<rect x="457" y="303" width="5" height="2" fill="#ffbe00"/>
<rect x="462" y="291" width="4" height="2" fill="#db00ff"/>
<rect x="462" y="293" width="4" height="3" fill="#db00ff"/>
<rect x="462" y="298" width="4" height="2" fill="#6300ff"/>
<rect x="462" y="300" width="4" height="3" fill="#00c5ff"/>
<rect x="462" y="303" width="4" height="2" fill="#ff0000"/>
<rect x="462" y="305" width="4" height="3" fill="#ff0000"/>
<rect x="462" y="308" width="4" height="2" fill="#6300ff"/>
<rect x="466" y="296" width="4" height="2" fill="#6300ff"/>
<rect x="466" y="303" width="4" height="2" fill="#0010ff"/>
<rect x="466" y="305" width="4" height="3" fill="#00ffde"/>
<rect x="466" y="308" width="4" height="2" fill="#ff6300"/>
<rect x="466" y="310" width="4" height="2" fill="#ff0000"/>
<rect x="466" y="312" width="4" height="3" fill="#006bff"/>
<rect x="470" y="296" width="5" height="2" fill="#db00ff"/>
<rect x="470" y="298" width="5" height="2" fill="#db00ff"/>
<rect x="470" y="303" width="5" height="2" fill="#db00ff"/>
<rect x="470" y="305" width="5" height="3" fill="#0010ff"/>
<rect x="470" y="308" width="5" height="2" fill="#db00ff"/>
<rect x="470" y="310" width="5" height="2" fill="#00ff2a"/>
<rect x="470" y="312" width="5" height="3" fill="#ff0000"/>
<rect x="470" y="315" width="5" height="2" fill="#ff6300"/>
<rect x="470" y="317" width="5" height="3" fill="#db00ff"/>
<rect x="475" y="300" width="4" height="3" fill="#6300ff"/>
<rect x="475" y="308" width="4" height="2" fill="#006bff"/>
<rect x="475" y="312" width="4" height="3" fill="#006bff"/>
<rect x="475" y="315" width="4" height="2" fill="#8bff00"/>
<rect x="475" y="317" width="4" height="3" fill="#e6ff00"/>
<rect x="475" y="320" width="4" height="2" fill="#00ff2a"/>
<rect x="475" y="322" width="4" height="2" fill="#00ff2a"/>
<rect x="479" y="303" width="4" height="2" fill="#6300ff"/>
<rect x="479" y="312" width="4" height="3" fill="#006bff"/>
<rect x="479" y="315" width="4" height="2" fill="#db00ff"/>
<rect x="479" y="317" width="4" height="3" fill="#6300ff"/>
<rect x="479" y="320" width="4" height="2" fill="#00ff84"/>
<rect x="479" y="322" width="4" height="2" fill="#00ff84"/>
<rect x="479" y="324" width="4" height="3" fill="#00ffde"/>
<rect x="479" y="327" width="4" height="2" fill="#00ffde"/>
<rect x="479" y="329" width="4" height="3" fill="#00ff2a"/>
<rect x="479" y="332" width="4" height="2" fill="#6300ff"/>
<rect x="483" y="308" width="5" height="2" fill="#6300ff"/>
<rect x="483" y="315" width="5" height="2" fill="#006bff"/>
<rect x="483" y="317" width="5" height="3" fill="#db00ff"/>
<rect x="483" y="320" width="5" height="2" fill="#6300ff"/>
<rect x="483" y="322" width="5" height="2" fill="#6300ff"/>
<rect x="483" y="324" width="5" height="3" fill="#00ffde"/>
<rect x="483" y="327" width="5" height="2" fill="#00ff2a"/>
<rect x="483" y="329" width="5" height="3" fill="#00ff2a"/>
<rect x="483" y="332" width="5" height="2" fill="#0010ff"/>
<rect x="483" y="334" width="5" height="2" fill="#0010ff"/>
<rect x="483" y="336" width="5" height="3" fill="#00ff84"/>
<rect x="483" y="339" width="5" height="2" fill="#00c5ff"/>
<rect x="488" y="310" width="4" height="2" fill="#6300ff"/>
<rect x="488" y="315" width="4" height="2" fill="#0010ff"/>
<rect x="488" y="317" width="4" height="3" fill="#db00ff"/>
<rect x="488" y="320" width="4" height="2" fill="#6300ff"/>
<rect x="488" y="322" width="4" height="2" fill="#db00ff"/>
<rect x="488" y="324" width="4" height="3" fill="#db00ff"/>
<rect x="488" y="327" width="4" height="2" fill="#0010ff"/>
<rect x="488" y="329" width="4" height="3" fill="#db00ff"/>
<rect x="488" y="332" width="4" height="2" fill="#0010ff"/>
<rect x="488" y="334" width="4" height="2" fill="#0010ff"/>
<rect x="488" y="336" width="4" height="3" fill="#00ff84"/>
<rect x="488" y="339" width="4" height="2" fill="#6300ff"/>
<rect x="488" y="341" width="4" height="3" fill="#0010ff"/>
<rect x="488" y="344" width="4" height="2" fill="#0010ff"/>
<rect x="488" y="346" width="4" height="2" fill="#0010ff"/>
<rect x="488" y="348" width="4" height="3" fill="#00ff84"/>
<rect x="492" y="315" width="4" height="2" fill="#00ffde"/>
<rect x="492" y="317" width="4" height="3" fill="#db00ff"/>
<rect x="492" y="320" width="4" height="2" fill="#6300ff"/>
<rect x="492" y="322" width="4" height="2" fill="#6300ff"/>
<rect x="492" y="324" width="4" height="3" fill="#db00ff"/>
<rect x="492" y="327" width="4" height="2" fill="#db00ff"/>
<rect x="492" y="329" width="4" height="3" fill="#6300ff"/>
<rect x="492" y="332" width="4" height="2" fill="#0010ff"/>
<rect x="492" y="334" width="4" height="2" fill="#6300ff"/>
<rect x="492" y="336" width="4" height="3" fill="#0010ff"/>
<rect x="492" y="339" width="4" height="2" fill="#006bff"/>
<rect x="492" y="341" width="4" height="3" fill="#00c5ff"/>
<rect x="492" y="344" width="4" height="2" fill="#0010ff"/>
<rect x="492" y="346" width="4" height="2" fill="#0010ff"/>
<rect x="492" y="348" width="4" height="3" fill="#db00ff"/>
<rect x="492" y="351" width="4" height="2" fill="#6300ff"/>
<rect x="492" y="353" width="4" height="3" fill="#006bff"/>
<rect x="492" y="356" width="4" height="2" fill="#006bff"/>
<rect x="496" y="312" width="5" height="3" fill="#0010ff"/>
<rect x="496" y="315" width="5" height="2" fill="#0010ff"/>
<rect x="496" y="317" width="5" height="3" fill="#db00ff"/>
<rect x="496" y="320" width="5" height="2" fill="#6300ff"/>
<rect x="496" y="322" width="5" height="2" fill="#6300ff"/>
<rect x="496" y="324" width="5" height="3" fill="#db00ff"/>
<rect x="496" y="327" width="5" height="2" fill="#6300ff"/>
<rect x="496" y="329" width="5" height="3" fill="#6300ff"/>
<rect x="496" y="332" width="5" height="2" fill="#db00ff"/>
<rect x="496" y="334" width="5" height="2" fill="#6300ff"/>
<rect x="496" y="336" width="5" height="3" fill="#0010ff"/>
<rect x="496" y="339" width="5" height="2" fill="#6300ff"/>
<rect x="496" y="341" width="5" height="3" fill="#006bff"/>
<rect x="496" y="344" width="5" height="2" fill="#00c5ff"/>
<rect x="496" y="346" width="5" height="2" fill="#0010ff"/>
<rect x="496" y="348" width="5" height="3" fill="#0010ff"/>
<rect x="496" y="351" width="5" height="2" fill="#db00ff"/>
<rect x="496" y="353" width="5" height="3" fill="#db00ff"/>
<rect x="496" y="356" width="5" height="2" fill="#0010ff"/>
<rect x="496" y="358" width="5" height="2" fill="#006bff"/>
<rect x="501" y="310" width="4" height="2" fill="#6300ff"/>
<rect x="501" y="312" width="4" height="3" fill="#db00ff"/>
<rect x="501" y="315" width="4" height="2" fill="#006bff"/>
<rect x="501" y="317" width="4" height="3" fill="#db00ff"/>
<rect x="501" y="320" width="4" height="2" fill="#6300ff"/>
<rect x="501" y="322" width="4" height="2" fill="#6300ff"/>
<rect x="501" y="324" width="4" height="3" fill="#6300ff"/>
<rect x="501" y="327" width="4" height="2" fill="#db00ff"/>
<rect x="501" y="329" width="4" height="3" fill="#db00ff"/>
<rect x="501" y="332" width="4" height="2" fill="#db00ff"/>
<rect x="501" y="336" width="4" height="3" fill="#0010ff"/>
<rect x="501" y="339" width="4" height="2" fill="#db00ff"/>
<rect x="501" y="341" width="4" height="3" fill="#db00ff"/>
<rect x="501" y="344" width="4" height="2" fill="#006bff"/>
<rect x="501" y="346" width="4" height="2" fill="#00c5ff"/>
<rect x="501" y="348" width="4" height="3" fill="#006bff"/>
<rect x="501" y="351" width="4" height="2" fill="#db00ff"/>
<rect x="501" y="353" width="4" height="3" fill="#6300ff"/>
<rect x="501" y="358" width="4" height="2" fill="#006bff"/>
<rect x="501" y="360" width="4" height="3" fill="#0010ff"/>
<rect x="501" y="363" width="4" height="2" fill="#db00ff"/>
<rect x="505" y="308" width="4" height="2" fill="#6300ff"/>
<rect x="505" y="312" width="4" height="3" fill="#6300ff"/>
<rect x="505" y="315" width="4" height="2" fill="#6300ff"/>
<rect x="505" y="317" width="4" height="3" fill="#0010ff"/>
<rect x="505" y="320" width="4" height="2" fill="#0010ff"/>
<rect x="505" y="322" width="4" height="2" fill="#db00ff"/>
<rect x="505" y="324" width="4" height="3" fill="#db00ff"/>
<rect x="505" y="327" width="4" height="2" fill="#6300ff"/>
<rect x="505" y="329" width="4" height="3" fill="#6300ff"/>
<rect x="505" y="336" width="4" height="3" fill="#0010ff"/>
<rect x="505" y="339" width="4" height="2" fill="#0010ff"/>
<rect x="505" y="344" width="4" height="2" fill="#0010ff"/>
<rect x="505" y="346" width="4" height="2" fill="#006bff"/>
<rect x="505" y="348" width="4" height="3" fill="#006bff"/>
<rect x="505" y="351" width="4" height="2" fill="#6300ff"/>
<rect x="505" y="353" width="4" height="3" fill="#db00ff"/>
<rect x="505" y="356" width="4" height="2" fill="#6300ff"/>
<rect x="505" y="358" width="4" height="2" fill="#6300ff"/>
<rect x="505" y="360" width="4" height="3" fill="#6300ff"/>
<rect x="505" y="363" width="4" height="2" fill="#0010ff"/>
<rect x="509" y="305" width="5" height="3" fill="#6300ff"/>
<rect x="509" y="310" width="5" height="2" fill="#db00ff"/>
<rect x="509" y="312" width="5" height="3" fill="#006bff"/>
<rect x="509" y="315" width="5" height="2" fill="#db00ff"/>
<rect x="509" y="317" width="5" height="3" fill="#db00ff"/>
<rect x="509" y="320" width="5" height="2" fill="#6300ff"/>
<rect x="509" y="322" width="5" height="2" fill="#0010ff"/>
<rect x="509" y="324" width="5" height="3" fill="#db00ff"/>
<rect x="509" y="327" width="5" height="2" fill="#6300ff"/>
<rect x="509" y="332" width="5" height="2" fill="#6300ff"/>
<rect x="509" y="334" width="5" height="2" fill="#6300ff"/>
<rect x="509" y="336" width="5" height="3" fill="#6300ff"/>
<rect x="509" y="339" width="5" height="2" fill="#0010ff"/>
<rect x="509" y="341" width="5" height="3" fill="#db00ff"/>
<rect x="509" y="344" width="5" height="2" fill="#6300ff"/>
<rect x="509" y="346" width="5" height="2" fill="#6300ff"/>
<rect x="509" y="348" width="5" height="3" fill="#00ffde"/>
<rect x="509" y="351" width="5" height="2" fill="#6300ff"/>
<rect x="509" y="353" width="5" height="3" fill="#6300ff"/>
<rect x="509" y="356" width="5" height="2" fill="#db00ff"/>
<rect x="509" y="358" width="5" height="2" fill="#6300ff"/>
<rect x="509" y="360" width="5" height="3" fill="#6300ff"/>
<rect x="509" y="363" width="5" height="2" fill="#6300ff"/>
<rect x="514" y="303" width="4" height="2" fill="#6300ff"/>
<rect x="514" y="308" width="4" height="2" fill="#db00ff"/>
<rect x="514" y="310" width="4" height="2" fill="#0010ff"/>
<rect x="514" y="312" width="4" height="3" fill="#6300ff"/>
<rect x="514" y="315" width="4" height="2" fill="#6300ff"/>
<rect x="514" y="317" width="4" height="3" fill="#db00ff"/>
<rect x="514" y="320" width="4" height="2" fill="#6300ff"/>
<rect x="514" y="322" width="4" height="2" fill="#6300ff"/>
<rect x="514" y="324" width="4" height="3" fill="#db00ff"/>
<rect x="514" y="327" width="4" height="2" fill="#6300ff"/>
<rect x="514" y="329" width="4" height="3" fill="#db00ff"/>
<rect x="514" y="332" width="4" height="2" fill="#db00ff"/>
<rect x="514" y="334" width="4" height="2" fill="#6300ff"/>
<rect x="514" y="336" width="4" height="3" fill="#0010ff"/>
<rect x="514" y="339" width="4" height="2" fill="#db00ff"/>
<rect x="514" y="341" width="4" height="3" fill="#db00ff"/>
<rect x="514" y="344" width="4" height="2" fill="#6300ff"/>
<rect x="514" y="346" width="4" height="2" fill="#db00ff"/>
<rect x="514" y="348" width="4" height="3" fill="#006bff"/>
<rect x="514" y="351" width="4" height="2" fill="#0010ff"/>
<rect x="514" y="353" width="4" height="3" fill="#0010ff"/>
<rect x="514" y="356" width="4" height="2" fill="#db00ff"/>
<rect x="514" y="358" width="4" height="2" fill="#0010ff"/>
<rect x="514" y="360" width="4" height="3" fill="#0010ff"/>
<rect x="514" y="363" width="4" height="2" fill="#db00ff"/>
<rect x="518" y="300" width="4" height="3" fill="#6300ff"/>
<rect x="518" y="305" width="4" height="3" fill="#db00ff"/>
<rect x="518" y="308" width="4" height="2" fill="#0010ff"/>
<rect x="518" y="310" width="4" height="2" fill="#6300ff"/>
<rect x="518" y="312" width="4" height="3" fill="#6300ff"/>
<rect x="518" y="315" width="4" height="2" fill="#db00ff"/>
<rect x="518" y="317" width="4" height="3" fill="#db00ff"/>
<rect x="518" y="320" width="4" height="2" fill="#6300ff"/>
<rect x="518" y="322" width="4" height="2" fill="#db00ff"/>
<rect x="518" y="329" width="4" height="3" fill="#6300ff"/>
<rect x="518" y="332" width="4" height="2" fill="#0010ff"/>
<rect x="518" y="336" width="4" height="3" fill="#006bff"/>
<rect x="518" y="341" width="4" height="3" fill="#db00ff"/>
<rect x="518" y="344" width="4" height="2" fill="#6300ff"/>
<rect x="518" y="346" width="4" height="2" fill="#6300ff"/>
<rect x="518" y="348" width="4" height="3" fill="#0010ff"/>
<rect x="518" y="351" width="4" height="2" fill="#00ffde"/>
<rect x="518" y="353" width="4" height="3" fill="#db00ff"/>
<rect x="518" y="356" width="4" height="2" fill="#0010ff"/>
<rect x="518" y="358" width="4" height="2" fill="#6300ff"/>
<rect x="518" y="360" width="4" height="3" fill="#6300ff"/>
<rect x="522" y="298" width="5" height="2" fill="#db00ff"/>
<rect x="522" y="300" width="5" height="3" fill="#db00ff"/>
<rect x="522" y="303" width="5" height="2" fill="#db00ff"/>
<rect x="522" y="305" width="5" height="3" fill="#db00ff"/>
<rect x="522" y="308" width="5" height="2" fill="#006bff"/>
<rect x="522" y="310" width="5" height="2" fill="#6300ff"/>
<rect x="522" y="312" width="5" height="3" fill="#db00ff"/>
<rect x="522" y="315" width="5" height="2" fill="#6300ff"/>
<rect x="522" y="317" width="5" height="3" fill="#db00ff"/>
<rect x="522" y="320" width="5" height="2" fill="#6300ff"/>
<rect x="522" y="327" width="5" height="2" fill="#db00ff"/>
<rect x="522" y="329" width="5" height="3" fill="#6300ff"/>
<rect x="522" y="332" width="5" height="2" fill="#0010ff"/>
<rect x="522" y="334" width="5" height="2" fill="#6300ff"/>
<rect x="522" y="341" width="5" height="3" fill="#0010ff"/>
<rect x="522" y="344" width="5" height="2" fill="#6300ff"/>
<rect x="522" y="346" width="5" height="2" fill="#db00ff"/>
<rect x="522" y="348" width="5" height="3" fill="#006bff"/>
<rect x="522" y="351" width="5" height="2" fill="#00ffde"/>
<rect x="522" y="353" width="5" height="3" fill="#6300ff"/>
<rect x="522" y="356" width="5" height="2" fill="#0010ff"/>
<rect x="522" y="358" width="5" height="2" fill="#0010ff"/>
<rect x="527" y="298" width="4" height="2" fill="#6300ff"/>
<rect x="527" y="300" width="4" height="3" fill="#db00ff"/>
<rect x="527" y="303" width="4" height="2" fill="#0010ff"/>
<rect x="527" y="305" width="4" height="3" fill="#6300ff"/>
<rect x="527" y="308" width="4" height="2" fill="#0010ff"/>
<rect x="527" y="310" width="4" height="2" fill="#db00ff"/>
<rect x="527" y="312" width="4" height="3" fill="#db00ff"/>
<rect x="527" y="315" width="4" height="2" fill="#db00ff"/>
<rect x="527" y="317" width="4" height="3" fill="#db00ff"/>
<rect x="527" y="320" width="4" height="2" fill="#6300ff"/>
<rect x="527" y="324" width="4" height="3" fill="#6300ff"/>
<rect x="527" y="327" width="4" height="2" fill="#db00ff"/>
<rect x="527" y="329" width="4" height="3" fill="#6300ff"/>
<rect x="527" y="332" width="4" height="2" fill="#db00ff"/>
<rect x="527" y="334" width="4" height="2" fill="#6300ff"/>
<rect x="527" y="336" width="4" height="3" fill="#6300ff"/>
<rect x="527" y="339" width="4" height="2" fill="#0010ff"/>
<rect x="527" y="341" width="4" height="3" fill="#db00ff"/>
<rect x="527" y="344" width="4" height="2" fill="#db00ff"/>
<rect x="527" y="346" width="4" height="2" fill="#006bff"/>
<rect x="527" y="348" width="4" height="3" fill="#00ffde"/>
<rect x="527" y="351" width="4" height="2" fill="#00c5ff"/>
<rect x="527" y="356" width="4" height="2" fill="#6300ff"/>
<rect x="531" y="296" width="4" height="2" fill="#6300ff"/>
<rect x="531" y="298" width="4" height="2" fill="#db00ff"/>
<rect x="531" y="300" width="4" height="3" fill="#6300ff"/>
<rect x="531" y="303" width="4" height="2" fill="#6300ff"/>
<rect x="531" y="305" width="4" height="3" fill="#0010ff"/>
<rect x="531" y="308" width="4" height="2" fill="#6300ff"/>
<rect x="531" y="310" width="4" height="2" fill="#db00ff"/>
<rect x="531" y="312" width="4" height="3" fill="#6300ff"/>
<rect x="531" y="315" width="4" height="2" fill="#db00ff"/>
<rect x="531" y="317" width="4" height="3" fill="#db00ff"/>
<rect x="531" y="322" width="4" height="2" fill="#db00ff"/>
<rect x="531" y="324" width="4" height="3" fill="#6300ff"/>
<rect x="531" y="327" width="4" height="2" fill="#db00ff"/>
<rect x="531" y="329" width="4" height="3" fill="#db00ff"/>
<rect x="531" y="332" width="4" height="2" fill="#6300ff"/>
<rect x="531" y="336" width="4" height="3" fill="#0010ff"/>
<rect x="531" y="339" width="4" height="2" fill="#0010ff"/>
<rect x="531" y="341" width="4" height="3" fill="#6300ff"/>
<rect x="531" y="344" width="4" height="2" fill="#db00ff"/>
<rect x="531" y="346" width="4" height="2" fill="#00ff2a"/>
<rect x="531" y="348" width="4" height="3" fill="#0010ff"/>
<rect x="531" y="351" width="4" height="2" fill="#006bff"/>
<rect x="531" y="353" width="4" height="3" fill="#db00ff"/>
<rect x="531" y="356" width="4" height="2" fill="#db00ff"/>
<rect x="535" y="293" width="5" height="3" fill="#db00ff"/>
<rect x="535" y="296" width="5" height="2" fill="#6300ff"/>
<rect x="535" y="298" width="5" height="2" fill="#6300ff"/>
<rect x="535" y="300" width="5" height="3" fill="#6300ff"/>
<rect x="535" y="303" width="5" height="2" fill="#0010ff"/>
<rect x="535" y="305" width="5" height="3" fill="#db00ff"/>
<rect x="535" y="308" width="5" height="2" fill="#db00ff"/>
<rect x="535" y="310" width="5" height="2" fill="#6300ff"/>
<rect x="535" y="312" width="5" height="3" fill="#db00ff"/>
<rect x="535" y="320" width="5" height="2" fill="#db00ff"/>
<rect x="535" y="322" width="5" height="2" fill="#6300ff"/>
<rect x="535" y="327" width="5" height="2" fill="#6300ff"/>
<rect x="535" y="332" width="5" height="2" fill="#6300ff"/>
<rect x="535" y="334" width="5" height="2" fill="#6300ff"/>
<rect x="535" y="336" width="5" height="3" fill="#006bff"/>
<rect x="535" y="339" width="5" height="2" fill="#db00ff"/>
<rect x="535" y="341" width="5" height="3" fill="#6300ff"/>
<rect x="535" y="344" width="5" height="2" fill="#00ff2a"/>
<rect x="535" y="346" width="5" height="2" fill="#0010ff"/>
<rect x="535" y="348" width="5" height="3" fill="#0010ff"/>
<rect x="535" y="351" width="5" height="2" fill="#0010ff"/>
<rect x="540" y="293" width="4" height="3" fill="#6300ff"/>
<rect x="540" y="296" width="4" height="2" fill="#6300ff"/>
<rect x="540" y="298" width="4" height="2" fill="#0010ff"/>
<rect x="540" y="300" width="4" height="3" fill="#db00ff"/>
<rect x="540" y="303" width="4" height="2" fill="#0010ff"/>
<rect x="540" y="305" width="4" height="3" fill="#db00ff"/>
<rect x="540" y="308" width="4" height="2" fill="#6300ff"/>
<rect x="540" y="310" width="4" height="2" fill="#db00ff"/>
<rect x="540" y="312" width="4" height="3" fill="#db00ff"/>
<rect x="540" y="317" width="4" height="3" fill="#db00ff"/>
<rect x="540" y="322" width="4" height="2" fill="#db00ff"/>
<rect x="540" y="324" width="4" height="3" fill="#6300ff"/>
<rect x="540" y="327" width="4" height="2" fill="#6300ff"/>
<rect x="540" y="332" width="4" height="2" fill="#0010ff"/>
<rect x="540" y="334" width="4" height="2" fill="#db00ff"/>
<rect x="540" y="336" width="4" height="3" fill="#0010ff"/>
<rect x="540" y="339" width="4" height="2" fill="#0010ff"/>
<rect x="540" y="341" width="4" height="3" fill="#db00ff"/>
<rect x="540" y="344" width="4" height="2" fill="#00ff2a"/>
<rect x="540" y="346" width="4" height="2" fill="#db00ff"/>
<rect x="540" y="348" width="4" height="3" fill="#00c5ff"/>
<rect x="544" y="293" width="4" height="3" fill="#006bff"/>
<rect x="544" y="296" width="4" height="2" fill="#0010ff"/>
<rect x="544" y="298" width="4" height="2" fill="#6300ff"/>
<rect x="544" y="300" width="4" height="3" fill="#6300ff"/>
<rect x="544" y="303" width="4" height="2" fill="#db00ff"/>
<rect x="544" y="305" width="4" height="3" fill="#6300ff"/>
<rect x="544" y="308" width="4" height="2" fill="#db00ff"/>
<rect x="544" y="310" width="4" height="2" fill="#db00ff"/>
<rect x="544" y="315" width="4" height="2" fill="#db00ff"/>
<rect x="544" y="320" width="4" height="2" fill="#6300ff"/>
<rect x="544" y="324" width="4" height="3" fill="#6300ff"/>
<rect x="544" y="329" width="4" height="3" fill="#006bff"/>
<rect x="544" y="334" width="4" height="2" fill="#006bff"/>
<rect x="544" y="339" width="4" height="2" fill="#00ff2a"/>
<rect x="544" y="341" width="4" height="3" fill="#0010ff"/>
<rect x="544" y="344" width="4" height="2" fill="#6300ff"/>
<rect x="544" y="346" width="4" height="2" fill="#00c5ff"/>
<rect x="548" y="291" width="5" height="2" fill="#db00ff"/>
<rect x="548" y="293" width="5" height="3" fill="#00c5ff"/>
<rect x="548" y="296" width="5" height="2" fill="#db00ff"/>
<rect x="548" y="298" width="5" height="2" fill="#006bff"/>
<rect x="548" y="303" width="5" height="2" fill="#db00ff"/>
<rect x="548" y="305" width="5" height="3" fill="#db00ff"/>
<rect x="548" y="308" width="5" height="2" fill="#db00ff"/>
<rect x="548" y="310" width="5" height="2" fill="#db00ff"/>
<rect x="548" y="315" width="5" height="2" fill="#db00ff"/>
<rect x="548" y="317" width="5" height="3" fill="#6300ff"/>
<rect x="548" y="322" width="5" height="2" fill="#6300ff"/>
<rect x="548" y="324" width="5" height="3" fill="#db00ff"/>
<rect x="548" y="327" width="5" height="2" fill="#0010ff"/>
<rect x="548" y="329" width="5" height="3" fill="#db00ff"/>
<rect x="548" y="332" width="5" height="2" fill="#6300ff"/>
<rect x="548" y="334" width="5" height="2" fill="#6300ff"/>
<rect x="548" y="336" width="5" height="3" fill="#00ff84"/>
<rect x="548" y="339" width="5" height="2" fill="#0010ff"/>
<rect x="548" y="341" width="5" height="3" fill="#6300ff"/>
<rect x="548" y="344" width="5" height="2" fill="#00ffde"/>
<rect x="553" y="288" width="4" height="3" fill="#6300ff"/>
<rect x="553" y="291" width="4" height="2" fill="#0010ff"/>
<rect x="553" y="293" width="4" height="3" fill="#6300ff"/>
<rect x="553" y="296" width="4" height="2" fill="#0010ff"/>
<rect x="553" y="298" width="4" height="2" fill="#6300ff"/>
<rect x="553" y="300" width="4" height="3" fill="#6300ff"/>
<rect x="553" y="303" width="4" height="2" fill="#db00ff"/>
<rect x="553" y="305" width="4" height="3" fill="#db00ff"/>
<rect x="553" y="308" width="4" height="2" fill="#db00ff"/>
<rect x="553" y="312" width="4" height="3" fill="#6300ff"/>
<rect x="553" y="315" width="4" height="2" fill="#db00ff"/>
<rect x="553" y="320" width="4" height="2" fill="#db00ff"/>
<rect x="553" y="322" width="4" height="2" fill="#db00ff"/>
<rect x="553" y="324" width="4" height="3" fill="#0010ff"/>
<rect x="553" y="327" width="4" height="2" fill="#6300ff"/>
<rect x="553" y="329" width="4" height="3" fill="#6300ff"/>
<rect x="553" y="332" width="4" height="2" fill="#006bff"/>
<rect x="553" y="334" width="4" height="2" fill="#00c5ff"/>
<rect x="553" y="336" width="4" height="3" fill="#6300ff"/>
<rect x="553" y="339" width="4" height="2" fill="#00c5ff"/>
<rect x="553" y="341" width="4" height="3" fill="#0010ff"/>
<rect x="557" y="288" width="4" height="3" fill="#0010ff"/>
<rect x="557" y="291" width="4" height="2" fill="#006bff"/>
<rect x="557" y="293" width="4" height="3" fill="#6300ff"/>
<rect x="557" y="296" width="4" height="2" fill="#db00ff"/>
<rect x="557" y="298" width="4" height="2" fill="#6300ff"/>
<rect x="557" y="300" width="4" height="3" fill="#6300ff"/>
<rect x="557" y="303" width="4" height="2" fill="#db00ff"/>
<rect x="557" y="308" width="4" height="2" fill="#db00ff"/>
<rect x="557" y="310" width="4" height="2" fill="#db00ff"/>
<rect x="557" y="312" width="4" height="3" fill="#6300ff"/>
<rect x="557" y="317" width="4" height="3" fill="#0010ff"/>
<rect x="557" y="320" width="4" height="2" fill="#db00ff"/>
<rect x="557" y="322" width="4" height="2" fill="#db00ff"/>
<rect x="557" y="324" width="4" height="3" fill="#db00ff"/>
<rect x="557" y="327" width="4" height="2" fill="#db00ff"/>
<rect x="557" y="329" width="4" height="3" fill="#00c5ff"/>
<rect x="557" y="332" width="4" height="2" fill="#006bff"/>
<rect x="557" y="334" width="4" height="2" fill="#0010ff"/>
<rect x="557" y="336" width="4" height="3" fill="#006bff"/>
<rect x="557" y="339" width="4" height="2" fill="#00c5ff"/>
<rect x="561" y="281" width="5" height="3" fill="#db00ff"/>
<rect x="561" y="284" width="5" height="2" fill="#db00ff"/>
<rect x="561" y="286" width="5" height="2" fill="#db00ff"/>
<rect x="561" y="288" width="5" height="3" fill="#006bff"/>
<rect x="561" y="291" width="5" height="2" fill="#6300ff"/>
<rect x="561" y="293" width="5" height="3" fill="#db00ff"/>
<rect x="561" y="296" width="5" height="2" fill="#6300ff"/>
<rect x="561" y="298" width="5" height="2" fill="#db00ff"/>
<rect x="561" y="300" width="5" height="3" fill="#db00ff"/>
<rect x="561" y="303" width="5" height="2" fill="#db00ff"/>
<rect x="561" y="305" width="5" height="3" fill="#db00ff"/>
<rect x="561" y="308" width="5" height="2" fill="#6300ff"/>
<rect x="561" y="310" width="5" height="2" fill="#db00ff"/>
<rect x="561" y="315" width="5" height="2" fill="#6300ff"/>
<rect x="561" y="317" width="5" height="3" fill="#0010ff"/>
<rect x="561" y="320" width="5" height="2" fill="#6300ff"/>
<rect x="561" y="322" width="5" height="2" fill="#db00ff"/>
<rect x="561" y="324" width="5" height="3" fill="#0010ff"/>
<rect x="561" y="327" width="5" height="2" fill="#00c5ff"/>
<rect x="561" y="329" width="5" height="3" fill="#0010ff"/>
<rect x="561" y="332" width="5" height="2" fill="#0010ff"/>
<rect x="561" y="334" width="5" height="2" fill="#00c5ff"/>
<rect x="561" y="336" width="5" height="3" fill="#6300ff"/>
<rect x="566" y="281" width="4" height="3" fill="#db00ff"/>
<rect x="566" y="284" width="4" height="2" fill="#db00ff"/>
<rect x="566" y="286" width="4" height="2" fill="#db00ff"/>
<rect x="566" y="288" width="4" height="3" fill="#006bff"/>
<rect x="566" y="291" width="4" height="2" fill="#6300ff"/>
<rect x="566" y="293" width="4" height="3" fill="#db00ff"/>
<rect x="566" y="296" width="4" height="2" fill="#6300ff"/>
<rect x="566" y="298" width="4" height="2" fill="#db00ff"/>
<rect x="566" y="300" width="4" height="3" fill="#db00ff"/>
<rect x="566" y="303" width="4" height="2" fill="#db00ff"/>
<rect x="566" y="305" width="4" height="3" fill="#db00ff"/>
<rect x="566" y="308" width="4" height="2" fill="#6300ff"/>
<rect x="566" y="310" width="4" height="2" fill="#db00ff"/>
<rect x="566" y="315" width="4" height="2" fill="#6300ff"/>
<rect x="566" y="317" width="4" height="3" fill="#0010ff"/>
<rect x="566" y="320" width="4" height="2" fill="#6300ff"/>
<rect x="566" y="322" width="4" height="2" fill="#db00ff"/>
<rect x="566" y="324" width="4" height="3" fill="#0010ff"/>
<rect x="566" y="327" width="4" height="2" fill="#00c5ff"/>
<rect x="566" y="329" width="4" height="3" fill="#0010ff"/>
<rect x="566" y="332" width="4" height="2" fill="#0010ff"/>
<rect x="566" y="334" width="4" height="2" fill="#00c5ff"/>
<rect x="566" y="336" width="4" height="3" fill="#6300ff"/>
<rect x="570" y="281" width="4" height="3" fill="#6300ff"/>
<rect x="570" y="284" width="4" height="2" fill="#db00ff"/>
<rect x="570" y="286" width="4" height="2" fill="#db00ff"/>
<rect x="570" y="288" width="4" height="3" fill="#0010ff"/>
<rect x="570" y="291" width="4" height="2" fill="#0010ff"/>
<rect x="570" y="293" width="4" height="3" fill="#6300ff"/>
<rect x="570" y="298" width="4" height="2" fill="#6300ff"/>
<rect x="570" y="300" width="4" height="3" fill="#db00ff"/>
<rect x="570" y="303" width="4" height="2" fill="#db00ff"/>
<rect x="570" y="305" width="4" height="3" fill="#6300ff"/>
<rect x="570" y="308" width="4" height="2" fill="#db00ff"/>
<rect x="570" y="312" width="4" height="3" fill="#6300ff"/>
<rect x="570" y="315" width="4" height="2" fill="#006bff"/>
<rect x="570" y="317" width="4" height="3" fill="#db00ff"/>
<rect x="570" y="320" width="4" height="2" fill="#db00ff"/>
<rect x="570" y="322" width="4" height="2" fill="#6300ff"/>
<rect x="570" y="324" width="4" height="3" fill="#006bff"/>
<rect x="570" y="327" width="4" height="2" fill="#006bff"/>
<rect x="570" y="329" width="4" height="3" fill="#6300ff"/>
<rect x="570" y="332" width="4" height="2" fill="#0010ff"/>
<rect x="570" y="334" width="4" height="2" fill="#00c5ff"/>
<rect x="570" y="336" width="4" height="3" fill="#db00ff"/>
<rect x="574" y="281" width="5" height="3" fill="#6300ff"/>
<rect x="574" y="284" width="5" height="2" fill="#db00ff"/>
<rect x="574" y="286" width="5" height="2" fill="#db00ff"/>
<rect x="574" y="288" width="5" height="3" fill="#0010ff"/>
<rect x="574" y="291" width="5" height="2" fill="#0010ff"/>
<rect x="574" y="293" width="5" height="3" fill="#6300ff"/>
<rect x="574" y="298" width="5" height="2" fill="#6300ff"/>
<rect x="574" y="300" width="5" height="3" fill="#db00ff"/>
<rect x="574" y="303" width="5" height="2" fill="#db00ff"/>
<rect x="574" y="305" width="5" height="3" fill="#6300ff"/>
<rect x="574" y="308" width="5" height="2" fill="#db00ff"/>
<rect x="574" y="312" width="5" height="3" fill="#6300ff"/>
<rect x="574" y="315" width="5" height="2" fill="#006bff"/>
<rect x="574" y="317" width="5" height="3" fill="#db00ff"/>
<rect x="574" y="320" width="5" height="2" fill="#db00ff"/>
<rect x="574" y="322" width="5" height="2" fill="#6300ff"/>
<rect x="574" y="324" width="5" height="3" fill="#006bff"/>
<rect x="574" y="327" width="5" height="2" fill="#006bff"/>
<rect x="574" y="329" width="5" height="3" fill="#6300ff"/>
<rect x="574" y="332" width="5" height="2" fill="#0010ff"/>
<rect x="574" y="334" width="5" height="2" fill="#00c5ff"/>
<rect x="574" y="336" width="5" height="3" fill="#db00ff"/>
<rect x="579" y="276" width="4" height="3" fill="#db00ff"/>
<rect x="579" y="279" width="4" height="2" fill="#db00ff"/>
<rect x="579" y="284" width="4" height="2" fill="#006bff"/>
<rect x="579" y="286" width="4" height="2" fill="#0010ff"/>
<rect x="579" y="288" width="4" height="3" fill="#db00ff"/>
<rect x="579" y="293" width="4" height="3" fill="#006bff"/>
<rect x="579" y="298" width="4" height="2" fill="#db00ff"/>
<rect x="579" y="300" width="4" height="3" fill="#db00ff"/>
<rect x="579" y="305" width="4" height="3" fill="#6300ff"/>
<rect x="579" y="308" width="4" height="2" fill="#6300ff"/>
<rect x="579" y="310" width="4" height="2" fill="#0010ff"/>
<rect x="579" y="312" width="4" height="3" fill="#6300ff"/>
<rect x="579" y="315" width="4" height="2" fill="#6300ff"/>
<rect x="579" y="317" width="4" height="3" fill="#0010ff"/>
<rect x="579" y="320" width="4" height="2" fill="#00c5ff"/>
<rect x="579" y="322" width="4" height="2" fill="#6300ff"/>
<rect x="579" y="324" width="4" height="3" fill="#6300ff"/>
<rect x="579" y="327" width="4" height="2" fill="#0010ff"/>
<rect x="579" y="329" width="4" height="3" fill="#006bff"/>
<rect x="583" y="276" width="5" height="3" fill="#db00ff"/>
<rect x="583" y="279" width="5" height="2" fill="#db00ff"/>
<rect x="583" y="284" width="5" height="2" fill="#006bff"/>
<rect x="583" y="286" width="5" height="2" fill="#0010ff"/>
<rect x="583" y="288" width="5" height="3" fill="#db00ff"/>
<rect x="583" y="293" width="5" height="3" fill="#006bff"/>
<rect x="583" y="298" width="5" height="2" fill="#db00ff"/>
<rect x="583" y="300" width="5" height="3" fill="#db00ff"/>
<rect x="583" y="305" width="5" height="3" fill="#6300ff"/>
<rect x="583" y="308" width="5" height="2" fill="#6300ff"/>
<rect x="583" y="310" width="5" height="2" fill="#0010ff"/>
<rect x="583" y="312" width="5" height="3" fill="#6300ff"/>
<rect x="583" y="315" width="5" height="2" fill="#6300ff"/>
<rect x="583" y="317" width="5" height="3" fill="#0010ff"/>
<rect x="583" y="320" width="5" height="2" fill="#00c5ff"/>
<rect x="583" y="322" width="5" height="2" fill="#6300ff"/>
<rect x="583" y="324" width="5" height="3" fill="#6300ff"/>
<rect x="583" y="327" width="5" height="2" fill="#0010ff"/>
<rect x="583" y="329" width="5" height="3" fill="#006bff"/>
<rect x="588" y="274" width="4" height="2" fill="#db00ff"/>
<rect x="588" y="279" width="4" height="2" fill="#6300ff"/>
<rect x="588" y="281" width="4" height="3" fill="#6300ff"/>
<rect x="588" y="284" width="4" height="2" fill="#6300ff"/>
<rect x="588" y="286" width="4" height="2" fill="#db00ff"/>
<rect x="588" y="288" width="4" height="3" fill="#6300ff"/>
<rect x="588" y="293" width="4" height="3" fill="#006bff"/>
<rect x="588" y="296" width="4" height="2" fill="#db00ff"/>
<rect x="588" y="298" width="4" height="2" fill="#db00ff"/>
<rect x="588" y="303" width="4" height="2" fill="#0010ff"/>
<rect x="588" y="305" width="4" height="3" fill="#0010ff"/>
<rect x="588" y="308" width="4" height="2" fill="#0010ff"/>
<rect x="588" y="310" width="4" height="2" fill="#db00ff"/>
<rect x="588" y="312" width="4" height="3" fill="#006bff"/>
<rect x="588" y="315" width="4" height="2" fill="#0010ff"/>
<rect x="588" y="317" width="4" height="3" fill="#00c5ff"/>
<rect x="588" y="320" width="4" height="2" fill="#006bff"/>
<rect x="588" y="322" width="4" height="2" fill="#6300ff"/>
<rect x="588" y="324" width="4" height="3" fill="#00c5ff"/>
<rect x="592" y="274" width="4" height="2" fill="#db00ff"/>
<rect x="592" y="279" width="4" height="2" fill="#6300ff"/>
<rect x="592" y="281" width="4" height="3" fill="#6300ff"/>
<rect x="592" y="284" width="4" height="2" fill="#6300ff"/>
<rect x="592" y="286" width="4" height="2" fill="#db00ff"/>
<rect x="592" y="288" width="4" height="3" fill="#6300ff"/>
<rect x="592" y="293" width="4" height="3" fill="#006bff"/>
<rect x="592" y="296" width="4" height="2" fill="#db00ff"/>
<rect x="592" y="298" width="4" height="2" fill="#db00ff"/>
<rect x="592" y="303" width="4" height="2" fill="#0010ff"/>
<rect x="592" y="305" width="4" height="3" fill="#0010ff"/>
<rect x="592" y="308" width="4" height="2" fill="#0010ff"/>
<rect x="592" y="310" width="4" height="2" fill="#db00ff"/>
<rect x="592" y="312" width="4" height="3" fill="#006bff"/>
<rect x="592" y="315" width="4" height="2" fill="#0010ff"/>
<rect x="592" y="317" width="4" height="3" fill="#00c5ff"/>
<rect x="592" y="320" width="4" height="2" fill="#006bff"/>
<rect x="592" y="322" width="4" height="2" fill="#6300ff"/>
<rect x="592" y="324" width="4" height="3" fill="#00c5ff"/>
<rect x="596" y="276" width="5" height="3" fill="#6300ff"/>
<rect x="596" y="279" width="5" height="2" fill="#006bff"/>
<rect x="596" y="281" width="5" height="3" fill="#db00ff"/>
<rect x="596" y="284" width="5" height="2" fill="#6300ff"/>
<rect x="596" y="286" width="5" height="2" fill="#6300ff"/>
<rect x="596" y="288" width="5" height="3" fill="#0010ff"/>
<rect x="596" y="291" width="5" height="2" fill="#6300ff"/>
<rect x="596" y="296" width="5" height="2" fill="#6300ff"/>
<rect x="596" y="298" width="5" height="2" fill="#db00ff"/>
<rect x="596" y="300" width="5" height="3" fill="#db00ff"/>
<rect x="596" y="305" width="5" height="3" fill="#00c5ff"/>
<rect x="596" y="308" width="5" height="2" fill="#0010ff"/>
<rect x="596" y="310" width="5" height="2" fill="#006bff"/>
<rect x="596" y="312" width="5" height="3" fill="#006bff"/>
<rect x="596" y="315" width="5" height="2" fill="#00c5ff"/>
<rect x="596" y="317" width="5" height="3" fill="#db00ff"/>
<rect x="596" y="320" width="5" height="2" fill="#006bff"/>
<rect x="596" y="322" width="5" height="2" fill="#6300ff"/>
<rect x="601" y="276" width="4" height="3" fill="#6300ff"/>
<rect x="601" y="279" width="4" height="2" fill="#006bff"/>
<rect x="601" y="281" width="4" height="3" fill="#db00ff"/>
<rect x="601" y="284" width="4" height="2" fill="#6300ff"/>
<rect x="601" y="286" width="4" height="2" fill="#6300ff"/>
<rect x="601" y="288" width="4" height="3" fill="#0010ff"/>
<rect x="601" y="291" width="4" height="2" fill="#6300ff"/>
<rect x="601" y="296" width="4" height="2" fill="#6300ff"/>
<rect x="601" y="298" width="4" height="2" fill="#db00ff"/>
<rect x="601" y="300" width="4" height="3" fill="#db00ff"/>
<rect x="601" y="305" width="4" height="3" fill="#00c5ff"/>
<rect x="601" y="308" width="4" height="2" fill="#0010ff"/>
<rect x="601" y="310" width="4" height="2" fill="#006bff"/>
<rect x="601" y="312" width="4" height="3" fill="#006bff"/>
<rect x="601" y="315" width="4" height="2" fill="#00c5ff"/>
<rect x="601" y="317" width="4" height="3" fill="#db00ff"/>
<rect x="601" y="320" width="4" height="2" fill="#006bff"/>
<rect x="601" y="322" width="4" height="2" fill="#6300ff"/>
<rect x="605" y="276" width="4" height="3" fill="#6300ff"/>
<rect x="605" y="279" width="4" height="2" fill="#006bff"/>
<rect x="605" y="281" width="4" height="3" fill="#db00ff"/>
<rect x="605" y="284" width="4" height="2" fill="#6300ff"/>
<rect x="605" y="286" width="4" height="2" fill="#6300ff"/>
<rect x="605" y="288" width="4" height="3" fill="#0010ff"/>
<rect x="605" y="291" width="4" height="2" fill="#6300ff"/>
<rect x="605" y="296" width="4" height="2" fill="#6300ff"/>
<rect x="605" y="298" width="4" height="2" fill="#db00ff"/>
<rect x="605" y="300" width="4" height="3" fill="#db00ff"/>
<rect x="605" y="305" width="4" height="3" fill="#00c5ff"/>
<rect x="605" y="308" width="4" height="2" fill="#0010ff"/>
<rect x="605" y="310" width="4" height="2" fill="#006bff"/>
<rect x="605" y="312" width="4" height="3" fill="#006bff"/>
<rect x="605" y="315" width="4" height="2" fill="#00c5ff"/>
<rect x="605" y="317" width="4" height="3" fill="#db00ff"/>
<rect x="605" y="320" width="4" height="2" fill="#006bff"/>
<rect x="605" y="322" width="4" height="2" fill="#6300ff"/>
<rect x="609" y="276" width="5" height="3" fill="#6300ff"/>
<rect x="609" y="279" width="5" height="2" fill="#006bff"/>
<rect x="609" y="281" width="5" height="3" fill="#db00ff"/>
<rect x="609" y="284" width="5" height="2" fill="#6300ff"/>
<rect x="609" y="286" width="5" height="2" fill="#6300ff"/>
<rect x="609" y="288" width="5" height="3" fill="#0010ff"/>
<rect x="609" y="291" width="5" height="2" fill="#6300ff"/>
<rect x="609" y="296" width="5" height="2" fill="#6300ff"/>
<rect x="609" y="298" width="5" height="2" fill="#db00ff"/>
<rect x="609" y="300" width="5" height="3" fill="#db00ff"/>
<rect x="609" y="305" width="5" height="3" fill="#00c5ff"/>
<rect x="609" y="308" width="5" height="2" fill="#0010ff"/>
<rect x="609" y="310" width="5" height="2" fill="#006bff"/>
<rect x="609" y="312" width="5" height="3" fill="#006bff"/>
<rect x="609" y="315" width="5" height="2" fill="#00c5ff"/>
<rect x="609" y="317" width="5" height="3" fill="#db00ff"/>
<rect x="609" y="320" width="5" height="2" fill="#006bff"/>
<rect x="609" y="322" width="5" height="2" fill="#6300ff"/>
<rect x="614" y="276" width="4" height="3" fill="#0010ff"/>
<rect x="614" y="281" width="4" height="3" fill="#00c5ff"/>
<rect x="614" y="284" width="4" height="2" fill="#db00ff"/>
<rect x="614" y="286" width="4" height="2" fill="#00c5ff"/>
<rect x="614" y="288" width="4" height="3" fill="#db00ff"/>
<rect x="614" y="293" width="4" height="3" fill="#db00ff"/>
<rect x="614" y="296" width="4" height="2" fill="#db00ff"/>
<rect x="614" y="298" width="4" height="2" fill="#0010ff"/>
<rect x="614" y="300" width="4" height="3" fill="#6300ff"/>
<rect x="614" y="305" width="4" height="3" fill="#00c5ff"/>
<rect x="614" y="308" width="4" height="2" fill="#0010ff"/>
<rect x="614" y="310" width="4" height="2" fill="#006bff"/>
<rect x="614" y="312" width="4" height="3" fill="#006bff"/>
<rect x="614" y="315" width="4" height="2" fill="#6300ff"/>
<rect x="614" y="317" width="4" height="3" fill="#6300ff"/>
<rect x="614" y="320" width="4" height="2" fill="#6300ff"/>
<rect x="614" y="322" width="4" height="2" fill="#6300ff"/>
<rect x="614" y="324" width="4" height="3" fill="#db00ff"/>
<rect x="614" y="327" width="4" height="2" fill="#db00ff"/>
<rect x="618" y="276" width="4" height="3" fill="#0010ff"/>
<rect x="618" y="281" width="4" height="3" fill="#00c5ff"/>
<rect x="618" y="284" width="4" height="2" fill="#db00ff"/>
<rect x="618" y="286" width="4" height="2" fill="#00c5ff"/>
<rect x="618" y="288" width="4" height="3" fill="#db00ff"/>
<rect x="618" y="293" width="4" height="3" fill="#db00ff"/>
<rect x="618" y="296" width="4" height="2" fill="#db00ff"/>
<rect x="618" y="298" width="4" height="2" fill="#0010ff"/>
<rect x="618" y="300" width="4" height="3" fill="#6300ff"/>
<rect x="618" y="305" width="4" height="3" fill="#00c5ff"/>
<rect x="618" y="308" width="4" height="2" fill="#0010ff"/>
<rect x="618" y="310" width="4" height="2" fill="#006bff"/>
<rect x="618" y="312" width="4" height="3" fill="#006bff"/>
<rect x="618" y="315" width="4" height="2" fill="#6300ff"/>
<rect x="618" y="317" width="4" height="3" fill="#6300ff"/>
<rect x="618" y="320" width="4" height="2" fill="#6300ff"/>
<rect x="618" y="322" width="4" height="2" fill="#6300ff"/>
<rect x="618" y="324" width="4" height="3" fill="#db00ff"/>
<rect x="618" y="327" width="4" height="2" fill="#db00ff"/>
<rect x="622" y="276" width="5" height="3" fill="#0010ff"/>
<rect x="622" y="281" width="5" height="3" fill="#00c5ff"/>
<rect x="622" y="284" width="5" height="2" fill="#db00ff"/>
<rect x="622" y="286" width="5" height="2" fill="#00c5ff"/>
<rect x="622" y="288" width="5" height="3" fill="#db00ff"/>
<rect x="622" y="293" width="5" height="3" fill="#db00ff"/>
<rect x="622" y="296" width="5" height="2" fill="#db00ff"/>
<rect x="622" y="298" width="5" height="2" fill="#0010ff"/>
<rect x="622" y="300" width="5" height="3" fill="#6300ff"/>
<rect x="622" y="305" width="5" height="3" fill="#00c5ff"/>
<rect x="622" y="308" width="5" height="2" fill="#0010ff"/>
<rect x="622" y="310" width="5" height="2" fill="#006bff"/>
<rect x="622" y="312" width="5" height="3" fill="#006bff"/>
<rect x="622" y="315" width="5" height="2" fill="#6300ff"/>
<rect x="622" y="317" width="5" height="3" fill="#6300ff"/>
<rect x="622" y="320" width="5" height="2" fill="#6300ff"/>
<rect x="622" y="322" width="5" height="2" fill="#6300ff"/>
<rect x="622" y="324" width="5" height="3" fill="#db00ff"/>
<rect x="622" y="327" width="5" height="2" fill="#db00ff"/>
<rect x="627" y="276" width="4" height="3" fill="#0010ff"/>
<rect x="627" y="281" width="4" height="3" fill="#00c5ff"/>
<rect x="627" y="284" width="4" height="2" fill="#db00ff"/>
<rect x="627" y="286" width="4" height="2" fill="#00c5ff"/>
<rect x="627" y="288" width="4" height="3" fill="#db00ff"/>
<rect x="627" y="293" width="4" height="3" fill="#db00ff"/>
<rect x="627" y="296" width="4" height="2" fill="#db00ff"/>
<rect x="627" y="298" width="4" height="2" fill="#0010ff"/>
<rect x="627" y="300" width="4" height="3" fill="#6300ff"/>
<rect x="627" y="305" width="4" height="3" fill="#00c5ff"/>
<rect x="627" y="308" width="4" height="2" fill="#0010ff"/>
<rect x="627" y="310" width="4" height="2" fill="#006bff"/>
<rect x="627" y="312" width="4" height="3" fill="#006bff"/>
<rect x="627" y="315" width="4" height="2" fill="#6300ff"/>
<rect x="627" y="317" width="4" height="3" fill="#6300ff"/>
<rect x="627" y="320" width="4" height="2" fill="#6300ff"/>
<rect x="627" y="322" width="4" height="2" fill="#6300ff"/>
<rect x="627" y="324" width="4" height="3" fill="#db00ff"/>
<rect x="627" y="327" width="4" height="2" fill="#db00ff"/>
<rect x="631" y="269" width="4" height="3" fill="#6300ff"/>
<rect x="631" y="272" width="4" height="2" fill="#db00ff"/>
<rect x="631" y="274" width="4" height="2" fill="#6300ff"/>
<rect x="631" y="276" width="4" height="3" fill="#00c5ff"/>
<rect x="631" y="279" width="4" height="2" fill="#6300ff"/>
<rect x="631" y="281" width="4" height="3" fill="#6300ff"/>
<rect x="631" y="284" width="4" height="2" fill="#db00ff"/>
<rect x="631" y="288" width="4" height="3" fill="#db00ff"/>
<rect x="631" y="291" width="4" height="2" fill="#db00ff"/>
<rect x="631" y="293" width="4" height="3" fill="#6300ff"/>
<rect x="631" y="296" width="4" height="2" fill="#00c5ff"/>
<rect x="631" y="298" width="4" height="2" fill="#6300ff"/>
<rect x="631" y="300" width="4" height="3" fill="#006bff"/>
<rect x="631" y="303" width="4" height="2" fill="#0010ff"/>
<rect x="631" y="305" width="4" height="3" fill="#00c5ff"/>
<rect x="631" y="308" width="4" height="2" fill="#6300ff"/>
<rect x="631" y="310" width="4" height="2" fill="#6300ff"/>
<rect x="631" y="312" width="4" height="3" fill="#0010ff"/>
<rect x="631" y="317" width="4" height="3" fill="#db00ff"/>
<rect x="631" y="320" width="4" height="2" fill="#db00ff"/>
<rect x="635" y="269" width="5" height="3" fill="#6300ff"/>
<rect x="635" y="272" width="5" height="2" fill="#db00ff"/>
<rect x="635" y="274" width="5" height="2" fill="#6300ff"/>
<rect x="635" y="276" width="5" height="3" fill="#00c5ff"/>
<rect x="635" y="279" width="5" height="2" fill="#6300ff"/>
<rect x="635" y="281" width="5" height="3" fill="#6300ff"/>
<rect x="635" y="284" width="5" height="2" fill="#db00ff"/>
<rect x="635" y="288" width="5" height="3" fill="#db00ff"/>
<rect x="635" y="291" width="5" height="2" fill="#db00ff"/>
<rect x="635" y="293" width="5" height="3" fill="#6300ff"/>
<rect x="635" y="296" width="5" height="2" fill="#00c5ff"/>
<rect x="635" y="298" width="5" height="2" fill="#6300ff"/>
<rect x="635" y="300" width="5" height="3" fill="#006bff"/>
<rect x="635" y="303" width="5" height="2" fill="#0010ff"/>
<rect x="635" y="305" width="5" height="3" fill="#00c5ff"/>
<rect x="635" y="308" width="5" height="2" fill="#6300ff"/>
<rect x="635" y="310" width="5" height="2" fill="#6300ff"/>
<rect x="635" y="312" width="5" height="3" fill="#0010ff"/>
<rect x="635" y="317" width="5" height="3" fill="#db00ff"/>
<rect x="635" y="320" width="5" height="2" fill="#db00ff"/>
<rect x="640" y="269" width="4" height="3" fill="#6300ff"/>
<rect x="640" y="272" width="4" height="2" fill="#db00ff"/>
<rect x="640" y="274" width="4" height="2" fill="#6300ff"/>
<rect x="640" y="276" width="4" height="3" fill="#00c5ff"/>
<rect x="640" y="279" width="4" height="2" fill="#6300ff"/>
<rect x="640" y="281" width="4" height="3" fill="#6300ff"/>
<rect x="640" y="284" width="4" height="2" fill="#db00ff"/>
<rect x="640" y="288" width="4" height="3" fill="#db00ff"/>
<rect x="640" y="291" width="4" height="2" fill="#db00ff"/>
<rect x="640" y="293" width="4" height="3" fill="#6300ff"/>
<rect x="640" y="296" width="4" height="2" fill="#00c5ff"/>
<rect x="640" y="298" width="4" height="2" fill="#6300ff"/>
<rect x="640" y="300" width="4" height="3" fill="#006bff"/>
<rect x="640" y="303" width="4" height="2" fill="#0010ff"/>
<rect x="640" y="305" width="4" height="3" fill="#00c5ff"/>
<rect x="640" y="308" width="4" height="2" fill="#6300ff"/>
<rect x="640" y="310" width="4" height="2" fill="#6300ff"/>
<rect x="640" y="312" width="4" height="3" fill="#0010ff"/>
<rect x="640" y="317" width="4" height="3" fill="#db00ff"/>
<rect x="640" y="320" width="4" height="2" fill="#db00ff"/>
<rect x="644" y="269" width="4" height="3" fill="#6300ff"/>
<rect x="644" y="272" width="4" height="2" fill="#db00ff"/>
<rect x="644" y="274" width="4" height="2" fill="#6300ff"/>
<rect x="644" y="276" width="4" height="3" fill="#00c5ff"/>
<rect x="644" y="279" width="4" height="2" fill="#6300ff"/>
<rect x="644" y="281" width="4" height="3" fill="#6300ff"/>
<rect x="644" y="284" width="4" height="2" fill="#db00ff"/>
<rect x="644" y="288" width="4" height="3" fill="#db00ff"/>
<rect x="644" y="291" width="4" height="2" fill="#db00ff"/>
<rect x="644" y="293" width="4" height="3" fill="#6300ff"/>
<rect x="644" y="296" width="4" height="2" fill="#00c5ff"/>
<rect x="644" y="298" width="4" height="2" fill="#6300ff"/>
<rect x="644" y="300" width="4" height="3" fill="#006bff"/>
<rect x="644" y="303" width="4" height="2" fill="#0010ff"/>
<rect x="644" y="305" width="4" height="3" fill="#00c5ff"/>
<rect x="644" y="308" width="4" height="2" fill="#6300ff"/>
<rect x="644" y="310" width="4" height="2" fill="#6300ff"/>
<rect x="644" y="312" width="4" height="3" fill="#0010ff"/>
<rect x="644" y="317" width="4" height="3" fill="#db00ff"/>
<rect x="644" y="320" width="4" height="2" fill="#db00ff"/>
<rect x="648" y="269" width="6" height="3" fill="#6300ff"/>
<rect x="648" y="272" width="6" height="2" fill="#db00ff"/>
<rect x="648" y="274" width="6" height="2" fill="#6300ff"/>
<rect x="648" y="276" width="6" height="3" fill="#00c5ff"/>
<rect x="648" y="279" width="6" height="2" fill="#6300ff"/>
<rect x="648" y="281" width="6" height="3" fill="#6300ff"/>
<rect x="648" y="284" width="6" height="2" fill="#db00ff"/>
<rect x="648" y="288" width="6" height="3" fill="#db00ff"/>
<rect x="648" y="291" width="6" height="2" fill="#db00ff"/>
<rect x="648" y="293" width="6" height="3" fill="#6300ff"/>
<rect x="648" y="296" width="6" height="2" fill="#00c5ff"/>
<rect x="648" y="298" width="6" height="2" fill="#6300ff"/>
<rect x="648" y="300" width="6" height="3" fill="#006bff"/>
<rect x="648" y="303" width="6" height="2" fill="#0010ff"/>
<rect x="648" y="305" width="6" height="3" fill="#00c5ff"/>
<rect x="648" y="308" width="6" height="2" fill="#6300ff"/>
<rect x="648" y="310" width="6" height="2" fill="#6300ff"/>
<rect x="648" y="312" width="6" height="3" fill="#0010ff"/>
<rect x="648" y="317" width="6" height="3" fill="#db00ff"/>
<rect x="648" y="320" width="6" height="2" fill="#db00ff"/>
</g>
<g stroke="#000" stroke-width="0.69" stroke-dasharray="1.39 4.17" fill="none">
<path d="M131.5 420.5V60.5"/>
<path d="M151.5 420.5V60.5"/>
<path d="M165.5 420.5V60.5"/>
<path d="M177.5 420.5V60.5"/>
<path d="M186.5 420.5V60.5"/>
<path d="M193.5 420.5V60.5"/>
<path d="M200.5 420.5V60.5"/>
<path d="M206.5 420.5V60.5"/>
<path d="M211.5 420.5V60.5"/>
<path d="M246.5 420.5V60.5"/>
<path d="M266.5 420.5V60.5"/>
<path d="M281.5 420.5V60.5"/>
<path d="M292.5 420.5V60.5"/>
<path d="M301.5 420.5V60.5"/>
<path d="M309.5 420.5V60.5"/>
<path d="M315.5 420.5V60.5"/>
<path d="M321.5 420.5V60.5"/>
<path d="M326.5 420.5V60.5"/>
<path d="M361.5 420.5V60.5"/>
<path d="M381.5 420.5V60.5"/>
<path d="M396.5 420.5V60.5"/>
<path d="M407.5 420.5V60.5"/>
<path d="M416.5 420.5V60.5"/>
<path d="M424.5 420.5V60.5"/>
<path d="M430.5 420.5V60.5"/>
<path d="M436.5 420.5V60.5"/>
<path d="M442.5 420.5V60.5"/>
<path d="M476.5 420.5V60.5"/>
<path d="M497.5 420.5V60.5"/>
<path d="M511.5 420.5V60.5"/>
<path d="M522.5 420.5V60.5"/>
<path d="M531.5 420.5V60.5"/>
<path d="M539.5 420.5V60.5"/>
<path d="M546.5 420.5V60.5"/>
<path d="M552.5 420.5V60.5"/>
<path d="M557.5 420.5V60.5"/>
<path d="M591.5 420.5V60.5"/>
<path d="M612.5 420.5V60.5"/>
<path d="M626.5 420.5V60.5"/>
<path d="M637.5 420.5V60.5"/>
<path d="M646.5 420.5V60.5"/>
<path d="M654.5 420.5V60.5"/>
<path d="M661.5 420.5V60.5"/>
<path d="M667.5 420.5V60.5"/>
<path d="M96.5 372.5H672.5"/>
<path d="M96.5 324.5H672.5"/>
<path d="M96.5 276.5H672.5"/>
<path d="M96.5 228.5H672.5"/>
<path d="M96.5 180.5H672.5"/>
<path d="M96.5 132.5H672.5"/>
<path d="M96.5 84.5H672.5"/>
</g>
<clipPath id="cp"><rect x="96.0" y="60.0" width="576.0" height="360.0"/></clipPath>
<g clip-path="url(#cp)">
<path d="M211.20 159.60L250.65 173.76L269.39 205.20L315.24 228.00L393.19 175.20L402.75 171.60L418.48 182.40L429.81 212.40L463.20 228.00L476.28 272.40L620.16 242.40L672.00 208.32" stroke="#666" stroke-width="2.78" fill="none" stroke-linejoin="round" stroke-linecap="square"/>
<path d="M211.20 343.20L237.75 340.08L280.56 340.08L315.24 346.08L337.16 332.88L370.20 296.76L399.38 278.64L406.92 278.64L416.04 297.60L441.60 333.00L450.72 339.00L463.85 329.04L480.82 366.00L499.16 384.00L516.85 390.00L538.96 390.00L557.30 384.00L578.40 384.00L616.23 390.00L646.44 382.56L672.00 368.40" stroke="#666" stroke-width="2.78" fill="none" stroke-linejoin="round" stroke-linecap="square"/>
<path d="M130.68 260.25L135.01 257.50L139.35 256.50L143.68 256.10L148.02 256.10L152.35 250.00L156.69 250.00L161.02 253.25L165.36 256.60L169.69 260.60L174.03 263.20L178.36 265.20L182.70 266.60L187.03 267.40L191.37 267.80L195.70 268.20L200.04 268.00L204.37 267.20L208.71 266.40L213.04 265.80L217.38 265.20L221.71 264.60L226.04 264.00L230.38 263.40L234.71 262.60L239.05 261.40L243.38 260.00L247.72 258.20L252.05 255.90L256.39 254.40L260.72 253.40L265.06 252.80L269.39 252.40L273.73 252.20L278.06 252.20L282.40 252.40L286.73 252.60L291.07 252.60L295.40 252.50L299.74 252.40L304.07 252.20L308.41 252.10L312.74 251.20L317.08 250.40L321.41 249.90L325.75 248.60L330.08 246.50L334.42 244.10L338.75 241.90L343.09 239.80L347.42 237.80L351.76 235.40L356.09 232.40L360.42 229.20L364.76 226.20L369.09 223.60L373.43 221.40L377.76 218.70L382.10 216.00L386.43 214.00L390.77 212.80L395.10 212.30L399.44 213.70L403.77 215.40L408.11 217.30L412.44 219.50L416.78 223.00L421.11 229.90L425.45 238.30L429.78 245.70L434.12 253.00L438.45 261.50L442.79 270.10L447.12 279.00L451.46 287.70L455.79 294.40L460.13 299.70L464.46 304.00L468.80 308.30L473.13 312.30L477.47 316.60L481.80 323.00L486.13 329.20L490.47 334.90L494.80 337.40L499.14 337.90L503.47 338.00L507.81 337.80L512.14 337.30L516.48 336.40L520.81 334.90L525.15 333.20L529.48 331.40L533.82 329.60L538.15 328.30L542.49 326.50L546.82 324.60L551.16 322.60L555.49 320.00L559.83 317.30L564.16 314.40L568.50 314.20L572.83 313.70L577.17 313.10L581.50 309.00L585.84 308.00L590.17 306.40L594.51 305.60L598.84 302.40L603.18 302.40L607.51 302.40L611.85 302.40L616.18 301.70L620.51 301.40L624.85 301.40L629.18 301.40L633.52 295.00L637.85 294.80L642.19 294.80L646.52 294.80L650.86 294.80" stroke="#000" stroke-width="1.39" fill="none" stroke-linejoin="round"/>
</g>
<g stroke="#000" stroke-width="0.69" fill="none">
<path d="M96.5 420.5v-5.56M96.5 60.5v5.56"/>
<path d="M131.5 420.5v-2.78M131.5 60.5v2.78"/>
<path d="M151.5 420.5v-2.78M151.5 60.5v2.78"/>
<path d="M165.5 420.5v-2.78M165.5 60.5v2.78"/>
<path d="M177.5 420.5v-2.78M177.5 60.5v2.78"/>
<path d="M186.5 420.5v-2.78M186.5 60.5v2.78"/>
<path d="M193.5 420.5v-2.78M193.5 60.5v2.78"/>
<path d="M200.5 420.5v-2.78M200.5 60.5v2.78"/>
<path d="M206.5 420.5v-2.78M206.5 60.5v2.78"/>
<path d="M211.5 420.5v-5.56M211.5 60.5v5.56"/>
<path d="M246.5 420.5v-2.78M246.5 60.5v2.78"/>
<path d="M266.5 420.5v-2.78M266.5 60.5v2.78"/>
<path d="M281.5 420.5v-2.78M281.5 60.5v2.78"/>
<path d="M292.5 420.5v-2.78M292.5 60.5v2.78"/>
<path d="M301.5 420.5v-2.78M301.5 60.5v2.78"/>
<path d="M309.5 420.5v-2.78M309.5 60.5v2.78"/>
<path d="M315.5 420.5v-2.78M315.5 60.5v2.78"/>
<path d="M321.5 420.5v-2.78M321.5 60.5v2.78"/>
<path d="M326.5 420.5v-5.56M326.5 60.5v5.56"/>
<path d="M361.5 420.5v-2.78M361.5 60.5v2.78"/>
<path d="M381.5 420.5v-2.78M381.5 60.5v2.78"/>
<path d="M396.5 420.5v-2.78M396.5 60.5v2.78"/>
<path d="M407.5 420.5v-2.78M407.5 60.5v2.78"/>
<path d="M416.5 420.5v-2.78M416.5 60.5v2.78"/>
<path d="M424.5 420.5v-2.78M424.5 60.5v2.78"/>
<path d="M430.5 420.5v-2.78M430.5 60.5v2.78"/>
<path d="M436.5 420.5v-2.78M436.5 60.5v2.78"/>
<path d="M442.5 420.5v-5.56M442.5 60.5v5.56"/>
<path d="M476.5 420.5v-2.78M476.5 60.5v2.78"/>
<path d="M497.5 420.5v-2.78M497.5 60.5v2.78"/>
<path d="M511.5 420.5v-2.78M511.5 60.5v2.78"/>
<path d="M522.5 420.5v-2.78M522.5 60.5v2.78"/>
<path d="M531.5 420.5v-2.78M531.5 60.5v2.78"/>
<path d="M539.5 420.5v-2.78M539.5 60.5v2.78"/>
<path d="M546.5 420.5v-2.78M546.5 60.5v2.78"/>
<path d="M552.5 420.5v-2.78M552.5 60.5v2.78"/>
<path d="M557.5 420.5v-5.56M557.5 60.5v5.56"/>
<path d="M591.5 420.5v-2.78M591.5 60.5v2.78"/>
<path d="M612.5 420.5v-2.78M612.5 60.5v2.78"/>
<path d="M626.5 420.5v-2.78M626.5 60.5v2.78"/>
<path d="M637.5 420.5v-2.78M637.5 60.5v2.78"/>
<path d="M646.5 420.5v-2.78M646.5 60.5v2.78"/>
<path d="M654.5 420.5v-2.78M654.5 60.5v2.78"/>
<path d="M661.5 420.5v-2.78M661.5 60.5v2.78"/>
<path d="M667.5 420.5v-2.78M667.5 60.5v2.78"/>
<path d="M672.5 420.5v-5.56M672.5 60.5v5.56"/>
<path d="M96.5 420.5h5.56M672.5 420.5h-5.56"/>
<path d="M96.5 372.5h5.56M672.5 372.5h-5.56"/>
<path d="M96.5 324.5h5.56M672.5 324.5h-5.56"/>
<path d="M96.5 276.5h5.56M672.5 276.5h-5.56"/>
<path d="M96.5 228.5h5.56M672.5 228.5h-5.56"/>
<path d="M96.5 180.5h5.56M672.5 180.5h-5.56"/>
<path d="M96.5 132.5h5.56M672.5 132.5h-5.56"/>
<path d="M96.5 84.5h5.56M672.5 84.5h-5.56"/>
</g>
<rect x="96.5" y="60.5" width="576.0" height="360.0" fill="none" stroke="#000" stroke-width="1.39"/>
<text x="95.70" y="439.75" text-anchor="middle" style="letter-spacing:-0.45px" transform="rotate(0.05 95.70 439.75)">0.01</text>
<text x="210.70" y="439.75" text-anchor="middle" style="letter-spacing:-0.45px" transform="rotate(0.05 210.70 439.75)">0.1</text>
<text x="327.20" y="439.75" text-anchor="middle" style="letter-spacing:-0.45px" transform="rotate(0.05 327.20 439.75)">1</text>
<text x="441.67" y="439.75" text-anchor="middle" style="letter-spacing:-0.45px" transform="rotate(0.05 441.67 439.75)">10</text>
<text x="556.87" y="439.75" text-anchor="middle" style="letter-spacing:-0.45px" transform="rotate(0.05 556.87 439.75)">100</text>
<text x="672.07" y="439.75" text-anchor="middle" style="letter-spacing:-0.45px" transform="rotate(0.05 672.07 439.75)">1000</text>
<text x="90.48" y="424.70" text-anchor="end" style="letter-spacing:-0.3px" transform="rotate(0.05 90.48 424.70)">−200</text>
<text x="90.48" y="376.70" text-anchor="end" style="letter-spacing:-0.3px" transform="rotate(0.05 90.48 376.70)">−180</text>
<text x="90.48" y="328.70" text-anchor="end" style="letter-spacing:-0.3px" transform="rotate(0.05 90.48 328.70)">−160</text>
<text x="90.48" y="280.70" text-anchor="end" style="letter-spacing:-0.3px" transform="rotate(0.05 90.48 280.70)">−140</text>
<text x="90.48" y="232.70" text-anchor="end" style="letter-spacing:-0.3px" transform="rotate(0.05 90.48 232.70)">−120</text>
<text x="90.48" y="184.70" text-anchor="end" style="letter-spacing:-0.3px" transform="rotate(0.05 90.48 184.70)">−100</text>
<text x="89.90" y="136.70" text-anchor="end" style="letter-spacing:-0.3px" transform="rotate(0.05 89.90 136.70)">−80</text>
<text x="89.90" y="88.70" text-anchor="end" style="letter-spacing:-0.3px" transform="rotate(0.05 89.90 88.70)">−60</text>
<text x="384.7" y="464.4" text-anchor="middle" transform="rotate(0.05 384.7 464.4)">Period [s]</text>
<text transform="translate(28.40,333.01) rotate(-89.95) scale(1.008,1)" >Power [</text>
<text transform="translate(28.45,271.94) rotate(-89.95) scale(1.338,1)" class="m" >m</text>
<text transform="translate(22.10,256.01) rotate(-89.95) scale(1.573,1)" class="mr" style="font-size:10.3px;fill:#222">2</text>
<text transform="translate(33.20,247.62) rotate(-89.95) scale(1.090,1)" class="mr" style="font-size:27px;fill:#777">/</text>
<text transform="translate(28.45,239.64) rotate(-89.95) scale(1.141,1)" class="m" >s</text>
<text transform="translate(22.10,231.91) rotate(-89.95) scale(1.517,1)" class="mr" style="font-size:10.3px;fill:#222">4</text>
<text transform="translate(33.20,223.62) rotate(-89.95) scale(1.090,1)" class="mr" style="font-size:27px;fill:#777">/</text>
<text transform="translate(28.45,216.52) rotate(-89.95) scale(1.279,1)" class="m" >H</text>
<text transform="translate(28.45,201.47) rotate(-89.95) scale(1.234,1)" class="m" >z</text>
<text transform="translate(28.40,194.40) rotate(-89.95) scale(1.009,1)" >] [dB]</text>
<text x="142.86" y="15.60" style="font-size:15.278px;letter-spacing:0.008px">BK.BKS.00.HHE</text>
<text x="275.01" y="15.60" style="font-size:15.278px;letter-spacing:0.037px">2018-05-11</text>
<text x="368.67" y="15.60" style="font-size:15.278px;letter-spacing:0.400px">--</text>
<text x="384.96" y="15.60" style="font-size:15.278px;letter-spacing:0.035px">2018-05-11</text>
<text x="483.07" y="15.60" style="font-size:15.278px;letter-spacing:0.055px">(47/47</text>
<text x="538.33" y="15.60" style="font-size:15.278px;letter-spacing:0.029px">segments)</text>
<text x="142.45" y="32.90" style="font-size:15.278px;letter-spacing:0.000px">sensor_type</text>
<text x="240.56" y="32.90" style="font-size:15.278px;letter-spacing:-0.028px">STS-1_E300</text>
<text x="336.20" y="32.90" style="font-size:15.278px;letter-spacing:-0.024px">sensor_sn</text>
<text x="417.04" y="32.90" style="font-size:15.278px;letter-spacing:0.035px">48531_E300-STS1-120-198</text>
<text x="190.79" y="51.50" style="font-size:15.278px;letter-spacing:0.020px">datalogger_type</text>
<text x="321.46" y="51.50" style="font-size:15.278px;letter-spacing:-0.017px">Q330HR-GFE</text>
<text x="425.00" y="51.50" style="font-size:15.278px;letter-spacing:0.013px">datalogger_sn</text>
<text x="538.56" y="51.50" style="font-size:15.278px;letter-spacing:0.284px">4007</text>
<defs><linearGradient id="cb" x1="0" y1="1" x2="0" y2="0">
<stop offset="0.00" stop-color="#ffffff"/>
<stop offset="0.05" stop-color="#ff00ff"/>
<stop offset="0.20" stop-color="#0000ff"/>
<stop offset="0.40" stop-color="#00ffff"/>
<stop offset="0.60" stop-color="#00ff00"/>
<stop offset="0.80" stop-color="#ffff00"/>
<stop offset="1.00" stop-color="#ff0000"/>
</linearGradient></defs>
<rect x="708.0" y="60.0" width="19.0" height="361.0" fill="url(#cb)"/>
<rect x="708.5" y="60.5" width="18.0" height="360.0" fill="none" stroke="#000" stroke-width="1.39"/>
<g stroke="#000" stroke-width="0.69">
<path d="M726.5 420.5h-5.56"/>
<path d="M726.5 384.5h-5.56"/>
<path d="M726.5 348.5h-5.56"/>
<path d="M726.5 312.5h-5.56"/>
<path d="M726.5 276.5h-5.56"/>
<path d="M726.5 240.5h-5.56"/>
<path d="M726.5 204.5h-5.56"/>
<path d="M726.5 168.5h-5.56"/>
<path d="M726.5 132.5h-5.56"/>
<path d="M726.5 96.5h-5.56"/>
<path d="M726.5 60.5h-5.56"/>
</g>
<text x="732.05" y="424.70" transform="rotate(0.05 732.05 424.70)">0</text>
<text x="732.05" y="388.70" transform="rotate(0.05 732.05 388.70)">3</text>
<text x="732.05" y="352.70" transform="rotate(0.05 732.05 352.70)">6</text>
<text x="732.05" y="316.70" transform="rotate(0.05 732.05 316.70)">9</text>
<text x="732.05" y="280.70" transform="rotate(0.05 732.05 280.70)" style="letter-spacing:-0.8px">12</text>
<text x="732.05" y="244.70" transform="rotate(0.05 732.05 244.70)" style="letter-spacing:-0.8px">15</text>
<text x="732.05" y="208.70" transform="rotate(0.05 732.05 208.70)" style="letter-spacing:-0.8px">18</text>
<text x="732.05" y="172.70" transform="rotate(0.05 732.05 172.70)" style="letter-spacing:-0.8px">21</text>
<text x="732.05" y="136.70" transform="rotate(0.05 732.05 136.70)" style="letter-spacing:-0.8px">24</text>
<text x="732.05" y="100.70" transform="rotate(0.05 732.05 100.70)" style="letter-spacing:-0.8px">27</text>
<text x="732.05" y="64.70" transform="rotate(0.05 732.05 64.70)" style="letter-spacing:-0.8px">30</text>
<text transform="translate(772.7,242.4) rotate(-90)" text-anchor="middle">[%]</text>
<rect x="120" y="474" width="561" height="10" fill="#008000" shape-rendering="crispEdges"/>
<rect x="120" y="484" width="561" height="15" fill="#0000ff" shape-rendering="crispEdges"/>
<g stroke="#000" stroke-width="0.69">
<path d="M120.5 498.5v-5.56M120.5 474.5v5.56"/>
<path d="M190.5 498.5v-5.56M190.5 474.5v5.56"/>
<path d="M260.5 498.5v-5.56M260.5 474.5v5.56"/>
<path d="M330.5 498.5v-5.56M330.5 474.5v5.56"/>
<path d="M400.5 498.5v-5.56M400.5 474.5v5.56"/>
<path d="M470.5 498.5v-5.56M470.5 474.5v5.56"/>
<path d="M540.5 498.5v-5.56M540.5 474.5v5.56"/>
<path d="M610.5 498.5v-5.56M610.5 474.5v5.56"/>
<path d="M680.5 498.5v-5.56M680.5 474.5v5.56"/>
</g>
<rect x="120.5" y="474.5" width="560" height="24" fill="none" stroke="#000" stroke-width="1.39"/>
<text transform="translate(181.4,505.9) rotate(-30)" text-anchor="end" x="0" y="12">03:00:00</text>
<text transform="translate(251.4,505.9) rotate(-30)" text-anchor="end" x="0" y="12">06:00:00</text>
<text transform="translate(321.4,505.9) rotate(-30)" text-anchor="end" x="0" y="12">09:00:00</text>
<text transform="translate(391.4,505.9) rotate(-30)" text-anchor="end" x="0" y="12">12:00:00</text>
<text transform="translate(461.4,505.9) rotate(-30)" text-anchor="end" x="0" y="12">15:00:00</text>
<text transform="translate(531.4,505.9) rotate(-30)" text-anchor="end" x="0" y="12">18:00:00</text>
<text transform="translate(601.4,505.9) rotate(-30)" text-anchor="end" x="0" y="12">21:00:00</text>
<text transform="translate(671.4,505.9) rotate(-30)" text-anchor="end" x="0" y="12">00:00:00</text>
</svg></body></html>
